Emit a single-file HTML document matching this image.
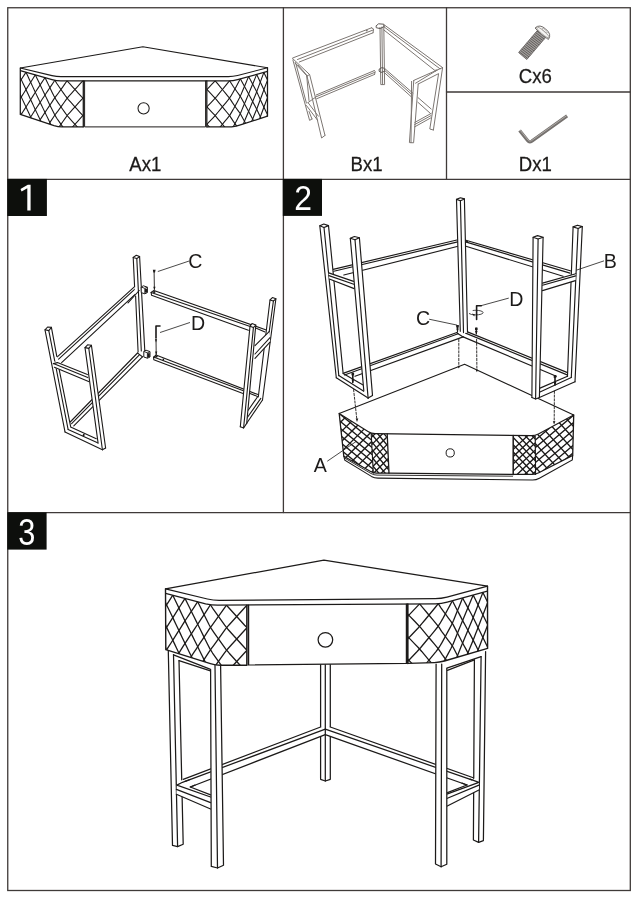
<!DOCTYPE html>
<html><head><meta charset="utf-8"><title>Assembly</title>
<style>
html,body{margin:0;padding:0;background:#fff;}
body{width:639px;height:900px;overflow:hidden;position:relative;font-family:"Liberation Sans",sans-serif;}
svg{position:absolute;left:0;top:0;will-change:transform;}
text{font-family:"Liberation Sans",sans-serif;}
</style></head><body>
<svg width="639" height="900" viewBox="0 0 639 900">
<rect x="7.75" y="7.75" width="622.55" height="882.75" fill="none" stroke="#3f3a38" stroke-width="1.3"/>
<path d="M7.75 179.30 L630.30 179.30" fill="none" stroke="#3f3a38" stroke-width="1.3" stroke-linejoin="round" stroke-linecap="round" />
<path d="M7.75 512.60 L630.30 512.60" fill="none" stroke="#3f3a38" stroke-width="1.3" stroke-linejoin="round" stroke-linecap="round" />
<path d="M283.40 7.75 L283.40 512.60" fill="none" stroke="#3f3a38" stroke-width="1.3" stroke-linejoin="round" stroke-linecap="round" />
<path d="M446.50 7.75 L446.50 179.30" fill="none" stroke="#3f3a38" stroke-width="1.3" stroke-linejoin="round" stroke-linecap="round" />
<path d="M446.50 92.00 L630.30 92.00" fill="none" stroke="#3f3a38" stroke-width="1.3" stroke-linejoin="round" stroke-linecap="round" />
<rect x="7.3" y="178.9" width="39.6" height="37.1" fill="#0d0f0c"/>
<rect x="282.8" y="178.9" width="39.2" height="37.0" fill="#0d0f0c"/>
<rect x="7.3" y="512.4" width="39.3" height="37.2" fill="#0d0f0c"/>
<path d="M30.6 184.7 L30.6 210.6 L27.3 210.6 L27.3 188.3 L21.6 191.5 L20.5 189.1 L27.8 184.7 Z" fill="#fff"/>
<text transform="translate(303.2,210.2) scale(0.9,1)" font-size="35.4" fill="#fff" text-anchor="middle">2</text>
<text transform="translate(26.7,544.6) scale(0.84,1)" font-size="36.6" fill="#fff" text-anchor="middle">3</text>
<text transform="translate(145.3,170.9) scale(0.95,1)" font-size="19.6" fill="#1c1a19" stroke="#1c1a19" stroke-width="0.25" text-anchor="middle">Ax1</text>
<text transform="translate(366.6,170.9) scale(0.95,1)" font-size="19.6" fill="#1c1a19" stroke="#1c1a19" stroke-width="0.25" text-anchor="middle">Bx1</text>
<text transform="translate(535.4,82.9) scale(0.95,1)" font-size="19.6" fill="#1c1a19" stroke="#1c1a19" stroke-width="0.25" text-anchor="middle">Cx6</text>
<text transform="translate(535.3,171.1) scale(0.95,1)" font-size="19.6" fill="#1c1a19" stroke="#1c1a19" stroke-width="0.25" text-anchor="middle">Dx1</text>
<path d="M20.30 68.00 L142.90 46.80 L267.50 67.80" fill="none" stroke="#1c1a19" stroke-width="1.15" stroke-linejoin="round" stroke-linecap="round" />
<path d="M20.3 68.0 L52 75.6 Q56.5 76.6 61 76.6 L228.4 76.6 Q233 76.6 237.6 75.5 L267.5 67.8" fill="none" stroke="#1c1a19" stroke-width="1.15"/>
<path d="M20.3 70.6 L52 79.6 Q56.5 80.8 61 80.8 L228.4 80.8 Q233 80.8 237.6 79.6 L267.5 71.4" fill="none" stroke="#1c1a19" stroke-width="1.15"/>
<path d="M20.30 68.00 L20.30 114.40" fill="none" stroke="#1c1a19" stroke-width="1.25" stroke-linejoin="round" stroke-linecap="round" />
<path d="M267.50 67.80 L267.50 116.20" fill="none" stroke="#1c1a19" stroke-width="1.25" stroke-linejoin="round" stroke-linecap="round" />
<path d="M20.3 114.4 L54 125.7 Q58 126.9 62 126.9 L83.4 126.9" fill="none" stroke="#1c1a19" stroke-width="1.25"/>
<path d="M267.5 116.2 L240.4 124.9 Q236.4 126.2 231.6 126.9 L206.6 126.9" fill="none" stroke="#1c1a19" stroke-width="1.25"/>
<path d="M84.60 81.00 L84.60 126.90 L205.60 126.90 L205.60 81.00" fill="none" stroke="#1c1a19" stroke-width="1.0" stroke-linejoin="round" stroke-linecap="round" />
<path d="M83.30 81.00 L83.30 126.90" fill="none" stroke="#1c1a19" stroke-width="1.3" stroke-linejoin="round" stroke-linecap="round" />
<path d="M206.80 81.00 L206.80 126.90" fill="none" stroke="#1c1a19" stroke-width="1.3" stroke-linejoin="round" stroke-linecap="round" />
<circle cx="143.6" cy="108.3" r="5.6" fill="none" stroke="#1c1a19" stroke-width="1.05"/>
<clipPath id="c1"><polygon points="20.30,70.60 52.00,79.60 56.50,80.60 61.00,80.80 83.30,80.80 83.30,126.90 62.00,126.90 58.00,126.70 54.00,125.70 20.30,114.40"/></clipPath>
<g clip-path="url(#c1)">
<path d="M-2.50 64.13 L-0.79 67.74 L0.92 71.36 L2.63 74.98 L4.34 78.59 L6.05 82.21 L7.76 85.83 L9.47 89.44 L11.18 93.06 L12.89 96.68 L14.60 100.29 L16.31 103.91 L18.02 107.53 L19.72 111.14 L21.43 114.76 L23.14 118.38 L24.85 121.99" fill="none" stroke="#1c1a19" stroke-width="1.1" stroke-linejoin="round" stroke-linecap="round" />
<path d="M7.00 66.82 L8.71 70.44 L10.42 74.06 L12.13 77.67 L13.84 81.29 L15.55 84.91 L17.26 88.52 L18.97 92.14 L20.68 95.76 L22.39 99.37 L24.10 102.99 L25.81 106.61 L27.48 110.21 L29.16 113.82 L30.83 117.43 L32.50 121.03 L34.18 124.64" fill="none" stroke="#1c1a19" stroke-width="1.1" stroke-linejoin="round" stroke-linecap="round" />
<path d="M16.50 69.52 L18.21 73.14 L19.92 76.75 L21.63 80.37 L23.34 83.99 L25.05 87.60 L26.74 91.22 L28.42 94.82 L30.09 98.43 L31.76 102.04 L33.44 105.64 L35.11 109.25 L36.85 112.87 L38.59 116.50 L40.34 120.13 L42.08 123.75 L43.83 127.38" fill="none" stroke="#1c1a19" stroke-width="1.1" stroke-linejoin="round" stroke-linecap="round" />
<path d="M26.00 72.22 L27.67 75.82 L29.35 79.43 L31.02 83.04 L32.69 86.64 L34.37 90.25 L36.07 93.87 L37.82 97.49 L39.56 101.12 L41.31 104.75 L43.06 108.37 L44.80 112.00 L46.56 115.63 L48.33 119.26 L50.09 122.90 L51.85 126.53 L53.62 130.06" fill="none" stroke="#1c1a19" stroke-width="1.1" stroke-linejoin="round" stroke-linecap="round" />
<path d="M35.30 74.86 L37.05 78.49 L38.79 82.11 L40.54 85.74 L42.28 89.37 L44.03 92.99 L45.78 96.62 L47.55 100.25 L49.31 103.89 L51.07 107.52 L52.84 111.10 L54.60 114.62 L56.76 118.19 L58.98 121.42 L61.19 124.64 L63.40 127.77 L65.62 130.90" fill="none" stroke="#1c1a19" stroke-width="1.1" stroke-linejoin="round" stroke-linecap="round" />
<path d="M45.00 77.61 L46.76 81.24 L48.53 84.88 L50.29 88.51 L52.05 92.14 L53.82 95.66 L55.78 99.23 L57.99 102.59 L60.21 105.81 L62.42 108.98 L64.63 112.11 L66.85 115.24 L69.60 118.38 L72.43 121.51 L75.25 124.64 L78.08 127.77 L80.91 130.90" fill="none" stroke="#1c1a19" stroke-width="1.1" stroke-linejoin="round" stroke-linecap="round" />
<path d="M54.80 80.22 L57.01 83.75 L59.23 86.98 L61.44 90.19 L63.65 93.33 L65.87 96.46 L68.35 99.59 L71.18 102.72 L74.00 105.85 L76.83 108.98 L79.65 112.11 L82.48 115.24 L85.86 118.38 L89.32 121.51 L92.77 124.64 L96.23 127.77 L99.68 130.90" fill="none" stroke="#1c1a19" stroke-width="1.1" stroke-linejoin="round" stroke-linecap="round" />
<path d="M67.10 80.80 L69.93 83.93 L72.75 87.06 L75.58 90.19 L78.40 93.33 L81.23 96.46 L84.33 99.59 L87.79 102.72 L91.24 105.85 L94.70 108.98 L98.15 112.11 L101.61 115.24 L105.06 118.38 L108.52 121.51 L111.97 124.64 L115.43 127.77 L118.88 130.90" fill="none" stroke="#1c1a19" stroke-width="1.1" stroke-linejoin="round" stroke-linecap="round" />
<path d="M82.80 80.80 L86.26 83.93 L89.71 87.06 L93.17 90.19 L96.62 93.33 L100.08 96.46 L103.53 99.59 L106.99 102.72 L110.44 105.85 L113.90 108.98 L117.35 112.11 L120.81 115.24 L124.26 118.38 L127.72 121.51 L131.17 124.64 L134.63 127.77 L138.08 130.90" fill="none" stroke="#1c1a19" stroke-width="1.1" stroke-linejoin="round" stroke-linecap="round" />
<path d="M26.00 72.22 L24.29 74.86 L22.58 77.51 L20.87 80.16 L19.16 82.80 L17.45 85.45 L15.74 88.09 L14.03 90.74 L12.32 93.39 L10.61 96.03 L8.90 98.68 L7.19 101.32 L5.48 103.97 L3.78 106.61 L2.07 109.26 L0.36 111.91 L-1.35 114.55" fill="none" stroke="#1c1a19" stroke-width="1.1" stroke-linejoin="round" stroke-linecap="round" />
<path d="M35.30 74.86 L33.63 77.51 L31.95 80.17 L30.28 82.83 L28.61 85.48 L26.93 88.14 L25.24 90.79 L23.53 93.44 L21.82 96.08 L20.11 98.73 L18.40 101.37 L16.69 104.02 L14.98 106.67 L13.28 109.31 L11.57 111.96 L9.86 114.60 L8.15 117.25" fill="none" stroke="#1c1a19" stroke-width="1.1" stroke-linejoin="round" stroke-linecap="round" />
<path d="M45.00 77.61 L43.25 80.25 L41.51 82.88 L39.76 85.52 L38.02 88.16 L36.27 90.79 L34.56 93.44 L32.88 96.09 L31.21 98.75 L29.54 101.40 L27.86 104.06 L26.19 106.72 L24.48 109.36 L22.78 112.01 L21.07 114.65 L19.36 117.30 L17.65 119.95" fill="none" stroke="#1c1a19" stroke-width="1.1" stroke-linejoin="round" stroke-linecap="round" />
<path d="M54.80 80.22 L53.04 82.96 L51.27 85.66 L49.51 88.29 L47.75 90.92 L45.98 93.55 L44.23 96.18 L42.48 98.82 L40.74 101.45 L38.99 104.09 L37.24 106.72 L35.50 109.36 L33.82 112.01 L32.14 114.67 L30.47 117.32 L28.80 119.98 L27.12 122.64" fill="none" stroke="#1c1a19" stroke-width="1.1" stroke-linejoin="round" stroke-linecap="round" />
<path d="M67.10 80.80 L64.89 83.93 L62.67 87.06 L60.46 90.17 L58.25 93.20 L56.03 96.15 L54.02 98.84 L52.25 101.58 L50.49 104.22 L48.73 106.85 L46.96 109.48 L45.20 112.11 L43.45 114.75 L41.71 117.38 L39.96 120.02 L38.22 122.66 L36.47 125.29" fill="none" stroke="#1c1a19" stroke-width="1.1" stroke-linejoin="round" stroke-linecap="round" />
<path d="M82.80 80.80 L79.97 83.93 L77.15 87.06 L74.32 90.19 L71.50 93.33 L68.67 96.46 L66.12 99.59 L63.91 102.72 L61.69 105.85 L59.48 108.91 L57.27 111.95 L55.05 114.72 L53.24 117.45 L51.47 120.16 L49.71 122.79 L47.95 125.42 L46.18 128.05" fill="none" stroke="#1c1a19" stroke-width="1.1" stroke-linejoin="round" stroke-linecap="round" />
<path d="M102.00 80.80 L98.54 83.93 L95.09 87.06 L91.63 90.19 L88.18 93.33 L84.72 96.46 L81.55 99.59 L78.72 102.72 L75.90 105.85 L73.07 108.98 L70.25 112.11 L67.42 115.24 L65.14 118.38 L62.92 121.51 L60.71 124.62 L58.50 127.66 L56.28 130.65" fill="none" stroke="#1c1a19" stroke-width="1.1" stroke-linejoin="round" stroke-linecap="round" />
<path d="M121.20 80.80 L117.74 83.93 L114.29 87.06 L110.83 90.19 L107.38 93.33 L103.92 96.46 L100.47 99.59 L97.01 102.72 L93.56 105.85 L90.10 108.98 L86.65 112.11 L83.19 115.24 L80.30 118.38 L77.47 121.51 L74.65 124.64 L71.82 127.77 L68.99 130.90" fill="none" stroke="#1c1a19" stroke-width="1.1" stroke-linejoin="round" stroke-linecap="round" />
</g>
<clipPath id="c2"><polygon points="206.80,80.80 228.40,80.80 233.00,80.60 237.60,79.60 267.50,71.40 267.50,116.20 240.40,124.90 236.40,126.20 231.60,126.90 206.80,126.90"/></clipPath>
<g clip-path="url(#c2)">
<path d="M165.40 80.80 L168.40 83.95 L171.40 87.09 L174.40 90.24 L177.41 93.38 L180.41 96.53 L183.41 99.68 L186.41 102.82 L189.41 105.97 L192.41 109.12 L195.42 112.26 L198.42 115.41 L201.42 118.55 L204.42 121.70 L207.42 124.85 L210.42 127.99 L213.42 131.14" fill="none" stroke="#1c1a19" stroke-width="1.1" stroke-linejoin="round" stroke-linecap="round" />
<path d="M182.00 80.80 L185.00 83.95 L188.00 87.09 L191.00 90.24 L194.01 93.38 L197.01 96.53 L200.01 99.68 L203.01 102.82 L206.01 105.97 L209.01 109.12 L212.02 112.26 L215.02 115.41 L217.64 118.55 L220.25 121.70 L222.85 124.85 L225.46 127.99 L228.06 131.14" fill="none" stroke="#1c1a19" stroke-width="1.1" stroke-linejoin="round" stroke-linecap="round" />
<path d="M198.60 80.80 L201.60 83.95 L204.60 87.09 L207.60 90.24 L210.61 93.38 L213.61 96.53 L216.42 99.68 L219.03 102.82 L221.63 105.97 L224.23 109.12 L226.84 112.26 L229.44 115.36 L231.42 118.42 L233.35 121.42 L235.29 124.15 L237.22 126.88 L239.16 129.51" fill="none" stroke="#1c1a19" stroke-width="1.1" stroke-linejoin="round" stroke-linecap="round" />
<path d="M215.20 80.80 L217.80 83.95 L220.41 87.09 L223.01 90.24 L225.61 93.38 L228.22 96.53 L230.51 99.59 L232.44 102.65 L234.38 105.47 L236.31 108.20 L238.25 110.88 L240.18 113.50 L241.71 116.23 L243.21 118.96 L244.71 121.70 L246.21 124.43 L247.71 127.17" fill="none" stroke="#1c1a19" stroke-width="1.1" stroke-linejoin="round" stroke-linecap="round" />
<path d="M229.60 80.75 L231.53 83.81 L233.47 86.79 L235.40 89.52 L237.34 92.24 L239.27 94.87 L241.00 97.54 L242.51 100.28 L244.01 103.01 L245.51 105.75 L247.01 108.48 L248.51 111.22 L249.98 113.96 L251.44 116.70 L252.90 119.45 L254.37 122.19 L255.83 124.94" fill="none" stroke="#1c1a19" stroke-width="1.1" stroke-linejoin="round" stroke-linecap="round" />
<path d="M240.30 78.86 L241.80 81.59 L243.30 84.33 L244.80 87.06 L246.30 89.80 L247.80 92.53 L249.29 95.27 L250.75 98.02 L252.22 100.76 L253.68 103.51 L255.15 106.25 L256.61 108.99 L257.92 111.78 L259.22 114.57 L260.53 117.36 L261.83 120.15 L263.13 122.94" fill="none" stroke="#1c1a19" stroke-width="1.1" stroke-linejoin="round" stroke-linecap="round" />
<path d="M248.60 76.58 L250.06 79.33 L251.53 82.07 L252.99 84.82 L254.46 87.56 L255.92 90.31 L257.31 93.07 L258.61 95.86 L259.91 98.65 L261.22 101.44 L262.52 104.23 L263.82 107.02 L265.14 109.80 L266.46 112.59 L267.78 115.37 L269.10 118.15 L270.42 120.94" fill="none" stroke="#1c1a19" stroke-width="1.1" stroke-linejoin="round" stroke-linecap="round" />
<path d="M256.70 74.36 L258.00 77.15 L259.30 79.94 L260.61 82.73 L261.91 85.52 L263.21 88.31 L264.52 91.09 L265.84 93.88 L267.16 96.66 L268.48 99.45 L269.80 102.23 L271.12 105.02 L272.44 107.80 L273.76 110.58 L275.08 113.37 L276.40 116.15 L277.72 118.94" fill="none" stroke="#1c1a19" stroke-width="1.1" stroke-linejoin="round" stroke-linecap="round" />
<path d="M263.90 72.39 L265.22 75.17 L266.54 77.96 L267.86 80.74 L269.18 83.52 L270.50 86.31 L271.82 89.09 L273.14 91.88 L274.46 94.66 L275.78 97.45 L277.10 100.23 L278.42 103.01 L279.74 105.80 L281.06 108.58 L282.38 111.37 L283.70 114.15 L285.02 116.93" fill="none" stroke="#1c1a19" stroke-width="1.1" stroke-linejoin="round" stroke-linecap="round" />
<path d="M215.20 80.80 L212.20 83.95 L209.20 87.09 L206.20 90.24 L203.19 93.38 L200.19 96.53 L197.19 99.68 L194.19 102.82 L191.19 105.97 L188.19 109.12 L185.18 112.26 L182.18 115.41 L179.18 118.55 L176.18 121.70 L173.18 124.85 L170.18 127.99 L167.18 131.14" fill="none" stroke="#1c1a19" stroke-width="1.1" stroke-linejoin="round" stroke-linecap="round" />
<path d="M229.60 80.75 L227.00 83.95 L224.39 87.09 L221.79 90.24 L219.19 93.38 L216.58 96.53 L213.79 99.68 L210.79 102.82 L207.79 105.97 L204.79 109.12 L201.78 112.26 L198.78 115.41 L195.78 118.55 L192.78 121.70 L189.78 124.85 L186.78 127.99 L183.78 131.14" fill="none" stroke="#1c1a19" stroke-width="1.1" stroke-linejoin="round" stroke-linecap="round" />
<path d="M240.30 78.86 L238.37 82.54 L236.43 86.15 L234.50 89.71 L232.56 93.20 L230.63 96.43 L228.38 99.68 L225.77 102.82 L223.17 105.97 L220.57 109.12 L217.96 112.26 L215.36 115.41 L212.38 118.55 L209.38 121.70 L206.38 124.85 L203.38 127.99 L200.38 131.14" fill="none" stroke="#1c1a19" stroke-width="1.1" stroke-linejoin="round" stroke-linecap="round" />
<path d="M248.60 76.58 L247.10 80.14 L245.60 83.70 L244.10 87.26 L242.60 90.81 L241.10 94.37 L239.39 97.99 L237.46 101.65 L235.52 105.22 L233.59 108.79 L231.65 112.12 L229.72 115.35 L227.16 118.55 L224.55 121.70 L221.95 124.85 L219.34 127.99 L216.74 131.14" fill="none" stroke="#1c1a19" stroke-width="1.1" stroke-linejoin="round" stroke-linecap="round" />
<path d="M256.70 74.36 L255.24 77.91 L253.77 81.46 L252.31 85.01 L250.84 88.55 L249.38 92.10 L247.90 95.65 L246.39 99.21 L244.89 102.77 L243.39 106.33 L241.89 109.88 L240.39 113.44 L238.48 117.11 L236.55 120.73 L234.61 124.30 L232.68 127.81 L230.74 131.04" fill="none" stroke="#1c1a19" stroke-width="1.1" stroke-linejoin="round" stroke-linecap="round" />
<path d="M263.90 72.39 L262.60 75.89 L261.30 79.39 L259.99 82.90 L258.69 86.40 L257.39 89.90 L256.01 93.43 L254.55 96.98 L253.08 100.52 L251.62 104.07 L250.15 107.62 L248.69 111.17 L247.19 114.72 L245.69 118.28 L244.19 121.84 L242.69 125.40 L241.19 128.96" fill="none" stroke="#1c1a19" stroke-width="1.1" stroke-linejoin="round" stroke-linecap="round" />
<path d="M271.20 70.39 L269.88 73.89 L268.56 77.40 L267.24 80.91 L265.92 84.42 L264.60 87.93 L263.29 91.43 L261.99 94.94 L260.69 98.44 L259.38 101.94 L258.08 105.45 L256.78 108.95 L255.32 112.49 L253.86 116.04 L252.40 119.59 L250.93 123.14 L249.47 126.68" fill="none" stroke="#1c1a19" stroke-width="1.1" stroke-linejoin="round" stroke-linecap="round" />
<path d="M278.50 68.38 L277.18 71.89 L275.86 75.40 L274.54 78.91 L273.22 82.42 L271.90 85.92 L270.58 89.43 L269.26 92.94 L267.94 96.45 L266.62 99.96 L265.30 103.47 L263.98 106.97 L262.68 110.48 L261.38 113.98 L260.07 117.48 L258.77 120.99 L257.47 124.49" fill="none" stroke="#1c1a19" stroke-width="1.1" stroke-linejoin="round" stroke-linecap="round" />
<path d="M285.80 66.38 L284.48 69.89 L283.16 73.40 L281.84 76.91 L280.52 80.41 L279.20 83.92 L277.88 87.43 L276.56 90.94 L275.24 94.45 L273.92 97.95 L272.60 101.46 L271.28 104.97 L269.96 108.48 L268.64 111.99 L267.32 115.50 L266.00 119.00 L264.68 122.51" fill="none" stroke="#1c1a19" stroke-width="1.1" stroke-linejoin="round" stroke-linecap="round" />
</g>
<path d="M292.90 57.90 L371.60 27.80" fill="none" stroke="#7c7672" stroke-width="1.0" stroke-linejoin="round" stroke-linecap="round" />
<path d="M297.50 59.50 L372.60 30.20" fill="none" stroke="#7c7672" stroke-width="1.0" stroke-linejoin="round" stroke-linecap="round" />
<path d="M299.30 62.00 L373.00 32.80" fill="none" stroke="#7c7672" stroke-width="1.0" stroke-linejoin="round" stroke-linecap="round" />
<path d="M371.60 27.80 L373.60 29.00 L373.00 32.80" fill="none" stroke="#7c7672" stroke-width="1.0" stroke-linejoin="round" stroke-linecap="round" />
<circle cx="366.8" cy="30.6" r="0.9" fill="#7c7672"/>
<path d="M316.20 95.00 L374.30 70.60" fill="none" stroke="#7c7672" stroke-width="1.0" stroke-linejoin="round" stroke-linecap="round" />
<path d="M315.80 96.90 L374.60 72.40" fill="none" stroke="#7c7672" stroke-width="1.0" stroke-linejoin="round" stroke-linecap="round" />
<path d="M316.60 98.80 L374.60 74.40" fill="none" stroke="#7c7672" stroke-width="1.0" stroke-linejoin="round" stroke-linecap="round" />
<path d="M374.30 70.60 L375.20 71.60 L374.60 74.40" fill="none" stroke="#7c7672" stroke-width="1.0" stroke-linejoin="round" stroke-linecap="round" />
<path d="M292.50 58.40 L309.60 74.50 L325.00 135.40" fill="none" stroke="#7c7672" stroke-width="1.0" stroke-linejoin="round" stroke-linecap="round" />
<path d="M307.00 76.00 L321.60 138.00 L325.00 135.40" fill="none" stroke="#7c7672" stroke-width="1.0" stroke-linejoin="round" stroke-linecap="round" />
<path d="M309.60 74.50 L307.00 76.00" fill="none" stroke="#7c7672" stroke-width="1.0" stroke-linejoin="round" stroke-linecap="round" />
<path d="M292.90 60.00 L309.60 120.40 L312.00 119.00" fill="none" stroke="#7c7672" stroke-width="1.0" stroke-linejoin="round" stroke-linecap="round" />
<path d="M295.60 62.60 L306.40 103.00" fill="none" stroke="#7c7672" stroke-width="1.0" stroke-linejoin="round" stroke-linecap="round" />
<path d="M309.00 111.50 L312.00 119.00" fill="none" stroke="#7c7672" stroke-width="1.0" stroke-linejoin="round" stroke-linecap="round" />
<path d="M295.00 63.00 L307.00 76.00" fill="none" stroke="#7c7672" stroke-width="1.0" stroke-linejoin="round" stroke-linecap="round" />
<path d="M298.00 65.00 L306.60 75.00 L309.00 100.50" fill="none" stroke="#7c7672" stroke-width="1.0" stroke-linejoin="round" stroke-linecap="round" />
<path d="M306.40 105.50 L317.40 120.00" fill="none" stroke="#7c7672" stroke-width="1.0" stroke-linejoin="round" stroke-linecap="round" />
<path d="M308.00 102.60 L318.40 116.20" fill="none" stroke="#7c7672" stroke-width="1.0" stroke-linejoin="round" stroke-linecap="round" />
<path d="M308.00 102.60 L315.50 97.30" fill="none" stroke="#7c7672" stroke-width="1.0" stroke-linejoin="round" stroke-linecap="round" />
<path d="M380.00 27.40 L380.80 84.60 L384.60 84.60 L383.80 25.60" fill="none" stroke="#7c7672" stroke-width="1.0" stroke-linejoin="round" stroke-linecap="round" />
<path d="M381.90 27.00 L382.60 84.60" fill="none" stroke="#7c7672" stroke-width="1.0" stroke-linejoin="round" stroke-linecap="round" />
<path d="M376.40 25.60 L378.60 23.80 L383.60 24.20 L384.40 26.40 L380.20 28.60 L376.60 27.80 Z" fill="none" stroke="#5d5855" stroke-width="1.0" stroke-linejoin="round" stroke-linecap="round" />
<path d="M379.60 68.80 L382.00 67.60 L384.60 68.40 L384.60 71.40 L381.00 72.40 L379.40 71.40 Z" fill="none" stroke="#5d5855" stroke-width="1.0" stroke-linejoin="round" stroke-linecap="round" />
<path d="M383.60 24.40 L442.60 67.60" fill="none" stroke="#7c7672" stroke-width="1.0" stroke-linejoin="round" stroke-linecap="round" />
<path d="M384.20 27.00 L440.00 68.80" fill="none" stroke="#7c7672" stroke-width="1.0" stroke-linejoin="round" stroke-linecap="round" />
<path d="M383.90 30.00 L435.80 71.20" fill="none" stroke="#7c7672" stroke-width="1.0" stroke-linejoin="round" stroke-linecap="round" />
<path d="M384.60 68.40 L413.00 93.20" fill="none" stroke="#7c7672" stroke-width="1.0" stroke-linejoin="round" stroke-linecap="round" />
<path d="M384.60 70.40 L412.40 95.00" fill="none" stroke="#7c7672" stroke-width="1.0" stroke-linejoin="round" stroke-linecap="round" />
<path d="M384.60 72.80 L412.00 97.40" fill="none" stroke="#7c7672" stroke-width="1.0" stroke-linejoin="round" stroke-linecap="round" />
<path d="M418.00 97.60 L431.20 109.00" fill="none" stroke="#7c7672" stroke-width="1.0" stroke-linejoin="round" stroke-linecap="round" />
<path d="M417.80 102.20 L430.40 113.40" fill="none" stroke="#7c7672" stroke-width="1.0" stroke-linejoin="round" stroke-linecap="round" />
<path d="M413.80 80.40 L442.60 67.60 L433.40 130.00" fill="none" stroke="#7c7672" stroke-width="1.0" stroke-linejoin="round" stroke-linecap="round" />
<path d="M413.80 80.40 L409.40 142.60 L413.60 142.80 L418.20 84.00" fill="none" stroke="#7c7672" stroke-width="1.0" stroke-linejoin="round" stroke-linecap="round" />
<path d="M411.60 81.40 L411.00 142.70" fill="none" stroke="#7c7672" stroke-width="1.0" stroke-linejoin="round" stroke-linecap="round" />
<path d="M418.20 84.00 L438.60 73.60 L429.80 129.00 L433.40 130.00" fill="none" stroke="#7c7672" stroke-width="1.0" stroke-linejoin="round" stroke-linecap="round" />
<path d="M415.60 83.20 L437.00 70.20" fill="none" stroke="#7c7672" stroke-width="1.0" stroke-linejoin="round" stroke-linecap="round" />
<path d="M436.20 69.60 L436.90 70.60" fill="none" stroke="#7c7672" stroke-width="1.0" stroke-linejoin="round" stroke-linecap="round" />
<path d="M414.80 122.40 L431.20 113.40" fill="none" stroke="#7c7672" stroke-width="1.0" stroke-linejoin="round" stroke-linecap="round" />
<path d="M414.60 124.60 L431.00 115.60" fill="none" stroke="#7c7672" stroke-width="1.0" stroke-linejoin="round" stroke-linecap="round" />
<path d="M414.40 127.00 L430.60 118.00" fill="none" stroke="#7c7672" stroke-width="1.0" stroke-linejoin="round" stroke-linecap="round" />
<g transform="translate(532.1,45.0) rotate(-49.5)">
<rect x="-14.5" y="-5.4" width="29.5" height="10.8" rx="1" fill="#a09d9b"/>
<line x1="-13.60" y1="-5.4" x2="-13.00" y2="5.4" stroke="#5c5856" stroke-width="0.85"/>
<line x1="-11.65" y1="-5.4" x2="-11.05" y2="5.4" stroke="#5c5856" stroke-width="0.85"/>
<line x1="-9.70" y1="-5.4" x2="-9.10" y2="5.4" stroke="#5c5856" stroke-width="0.85"/>
<line x1="-7.75" y1="-5.4" x2="-7.15" y2="5.4" stroke="#5c5856" stroke-width="0.85"/>
<line x1="-5.80" y1="-5.4" x2="-5.20" y2="5.4" stroke="#5c5856" stroke-width="0.85"/>
<line x1="-3.85" y1="-5.4" x2="-3.25" y2="5.4" stroke="#5c5856" stroke-width="0.85"/>
<line x1="-1.90" y1="-5.4" x2="-1.30" y2="5.4" stroke="#5c5856" stroke-width="0.85"/>
<line x1="0.05" y1="-5.4" x2="0.65" y2="5.4" stroke="#5c5856" stroke-width="0.85"/>
<line x1="2.00" y1="-5.4" x2="2.60" y2="5.4" stroke="#5c5856" stroke-width="0.85"/>
<line x1="3.95" y1="-5.4" x2="4.55" y2="5.4" stroke="#5c5856" stroke-width="0.85"/>
<line x1="5.90" y1="-5.4" x2="6.50" y2="5.4" stroke="#5c5856" stroke-width="0.85"/>
<line x1="7.85" y1="-5.4" x2="8.45" y2="5.4" stroke="#5c5856" stroke-width="0.85"/>
<line x1="9.80" y1="-5.4" x2="10.40" y2="5.4" stroke="#5c5856" stroke-width="0.85"/>
<line x1="11.75" y1="-5.4" x2="12.35" y2="5.4" stroke="#5c5856" stroke-width="0.85"/>
<line x1="13.70" y1="-5.4" x2="14.30" y2="5.4" stroke="#5c5856" stroke-width="0.85"/>
<line x1="-14.5" y1="-5.4" x2="15" y2="-5.4" stroke="#6a6664" stroke-width="0.8"/>
<line x1="-14.5" y1="5.4" x2="15" y2="5.4" stroke="#6a6664" stroke-width="0.8"/>
<line x1="-14.5" y1="-5.4" x2="-14.5" y2="5.4" stroke="#6a6664" stroke-width="0.8"/>
<path d="M14.8 -8.8 Q21.2 -8.2 21.0 0 Q21.2 8.2 14.8 8.8 Q13.4 0 14.8 -8.8 Z" fill="#f6f5f3" stroke="#6f6a68" stroke-width="0.9"/>
<ellipse cx="16.6" cy="0" rx="1.6" ry="8.3" fill="none" stroke="#8d8986" stroke-width="0.7"/>
<ellipse cx="19.2" cy="0.2" rx="1.0" ry="3.4" fill="none" stroke="#9a9693" stroke-width="0.6"/>
</g>
<path d="M519.6 130.4 L527.6 140.6 Q529.4 142.8 531.8 141.2 L567.1 115.9" fill="none" stroke="#76726f" stroke-width="3.3" stroke-linecap="butt" stroke-linejoin="round"/>
<path d="M520.2 130.2 L528.2 140.2 Q529.6 141.8 531.4 140.7 L566.8 115.5" fill="none" stroke="#aeaaa7" stroke-width="1.0"/>
<path d="M134.60 286.70 L57.00 357.20" fill="none" stroke="#1c1a19" stroke-width="1.1" stroke-linejoin="round" stroke-linecap="round" />
<path d="M135.70 288.40 L58.60 359.20" fill="none" stroke="#1c1a19" stroke-width="1.1" stroke-linejoin="round" stroke-linecap="round" />
<path d="M139.40 290.40 L61.60 362.60" fill="none" stroke="#1c1a19" stroke-width="1.1" stroke-linejoin="round" stroke-linecap="round" />
<path d="M137.50 353.00 L70.20 422.00" fill="none" stroke="#1c1a19" stroke-width="1.1" stroke-linejoin="round" stroke-linecap="round" />
<path d="M139.60 354.60 L71.60 423.60" fill="none" stroke="#1c1a19" stroke-width="1.1" stroke-linejoin="round" stroke-linecap="round" />
<path d="M142.40 356.80 L73.80 425.80" fill="none" stroke="#1c1a19" stroke-width="1.1" stroke-linejoin="round" stroke-linecap="round" />
<path d="M137.50 353.00 L139.60 354.60 L142.40 356.80" fill="none" stroke="#1c1a19" stroke-width="1.1" stroke-linejoin="round" stroke-linecap="round" />
<path d="M133.20 257.40 L136.30 255.30 L139.60 256.50 L144.80 350.60 L141.30 351.40 L138.10 351.90 Z" fill="#fff" stroke="#fff" stroke-width="0.1" stroke-linejoin="round" stroke-linecap="round" />
<path d="M133.20 257.40 L134.60 286.70" fill="none" stroke="#1c1a19" stroke-width="1.1" stroke-linejoin="round" stroke-linecap="round" />
<path d="M139.60 256.50 L144.80 350.60" fill="none" stroke="#1c1a19" stroke-width="1.1" stroke-linejoin="round" stroke-linecap="round" />
<path d="M133.20 257.40 L136.30 255.30 L139.60 256.50 L136.80 258.60 Z" fill="none" stroke="#1c1a19" stroke-width="1.1" stroke-linejoin="round" stroke-linecap="round" />
<path d="M136.80 258.60 L141.30 351.00" fill="none" stroke="#1c1a19" stroke-width="1.1" stroke-linejoin="round" stroke-linecap="round" />
<path d="M139.20 290.50 L128.00 302.80" fill="none" stroke="#1c1a19" stroke-width="1.1" stroke-linejoin="round" stroke-linecap="round" />
<path d="M135.60 296.00 L138.10 351.90" fill="none" stroke="#1c1a19" stroke-width="1.1" stroke-linejoin="round" stroke-linecap="round" />
<path d="M45.00 329.80 L47.60 327.00 L51.40 327.40 L70.60 426.40 L68.10 429.40 L65.00 431.90 Z" fill="#fff" stroke="#fff" stroke-width="0.1" stroke-linejoin="round" stroke-linecap="round" />
<path d="M45.00 329.80 L65.00 431.90" fill="none" stroke="#1c1a19" stroke-width="1.1" stroke-linejoin="round" stroke-linecap="round" />
<path d="M51.40 327.40 L56.80 356.40" fill="none" stroke="#1c1a19" stroke-width="1.1" stroke-linejoin="round" stroke-linecap="round" />
<path d="M59.00 368.60 L70.60 426.40" fill="none" stroke="#1c1a19" stroke-width="1.1" stroke-linejoin="round" stroke-linecap="round" />
<path d="M45.00 329.80 L47.60 327.00 L51.40 327.40 L48.80 330.60 Z" fill="none" stroke="#1c1a19" stroke-width="1.1" stroke-linejoin="round" stroke-linecap="round" />
<path d="M48.80 330.60 L68.10 429.40" fill="none" stroke="#1c1a19" stroke-width="1.1" stroke-linejoin="round" stroke-linecap="round" />
<path d="M52.80 361.00 L87.40 374.60 L88.60 381.60 L54.00 367.60 Z" fill="#fff" stroke="#fff" stroke-width="0.1" stroke-linejoin="round" stroke-linecap="round" />
<path d="M57.40 362.60 L87.40 374.60" fill="none" stroke="#1c1a19" stroke-width="1.1" stroke-linejoin="round" stroke-linecap="round" />
<path d="M53.40 363.60 L87.80 377.60" fill="none" stroke="#1c1a19" stroke-width="1.1" stroke-linejoin="round" stroke-linecap="round" />
<path d="M54.40 367.20 L88.60 381.60" fill="none" stroke="#1c1a19" stroke-width="1.1" stroke-linejoin="round" stroke-linecap="round" />
<path d="M53.40 363.60 L57.40 362.60" fill="none" stroke="#1c1a19" stroke-width="1.1" stroke-linejoin="round" stroke-linecap="round" />
<path d="M65.00 431.90 L102.40 449.80" fill="none" stroke="#1c1a19" stroke-width="1.1" stroke-linejoin="round" stroke-linecap="round" />
<path d="M68.10 429.40 L98.10 443.10" fill="none" stroke="#1c1a19" stroke-width="1.1" stroke-linejoin="round" stroke-linecap="round" />
<path d="M70.60 426.90 L96.30 438.80" fill="none" stroke="#1c1a19" stroke-width="1.1" stroke-linejoin="round" stroke-linecap="round" />
<rect x="82.8" y="434.0" width="1.8" height="2.2" fill="#1c1a19" transform="rotate(24 83.7 435)"/>
<path d="M85.00 347.60 L87.60 344.80 L91.40 345.20 L105.60 448.00 L102.40 449.80 L98.10 443.10 Z" fill="#fff" stroke="#fff" stroke-width="0.1" stroke-linejoin="round" stroke-linecap="round" />
<path d="M85.00 347.60 L98.10 443.10" fill="none" stroke="#1c1a19" stroke-width="1.1" stroke-linejoin="round" stroke-linecap="round" />
<path d="M91.40 345.20 L105.60 448.00" fill="none" stroke="#1c1a19" stroke-width="1.1" stroke-linejoin="round" stroke-linecap="round" />
<path d="M85.00 347.60 L87.60 344.80 L91.40 345.20 L88.80 348.40 Z" fill="none" stroke="#1c1a19" stroke-width="1.1" stroke-linejoin="round" stroke-linecap="round" />
<path d="M88.80 348.40 L102.40 449.80" fill="none" stroke="#1c1a19" stroke-width="1.1" stroke-linejoin="round" stroke-linecap="round" />
<path d="M102.40 449.80 L105.60 448.00" fill="none" stroke="#1c1a19" stroke-width="1.1" stroke-linejoin="round" stroke-linecap="round" />
<path d="M141.2 287.0 L143.39999999999998 285.8 L147.39999999999998 287.2 L147.39999999999998 292.6 L144.79999999999998 293.8 L141.2 292.6 Z" fill="#fff" stroke="#1c1a19" stroke-width="1"/>
<path d="M144.79999999999998 288.4 L144.79999999999998 293.8 M141.2 287.0 L144.79999999999998 288.4 L147.39999999999998 287.2" fill="none" stroke="#1c1a19" stroke-width="0.9"/>
<rect x="145.0" y="288.8" width="2.2" height="3.8" fill="#1c1a19"/>
<path d="M143.8 351.4 L146.0 350.2 L150.0 351.59999999999997 L150.0 357.0 L147.4 358.2 L143.8 357.0 Z" fill="#fff" stroke="#1c1a19" stroke-width="1"/>
<path d="M147.4 352.79999999999995 L147.4 358.2 M143.8 351.4 L147.4 352.79999999999995 L150.0 351.59999999999997" fill="none" stroke="#1c1a19" stroke-width="0.9"/>
<rect x="147.60000000000002" y="353.2" width="2.2" height="3.8" fill="#1c1a19"/>
<path d="M151.20 292.40 L153.90 290.40 L266.30 330.00" fill="none" stroke="#1c1a19" stroke-width="1.1" stroke-linejoin="round" stroke-linecap="round" />
<path d="M151.20 292.40 L151.50 295.30 L248.40 330.20" fill="none" stroke="#1c1a19" stroke-width="1.1" stroke-linejoin="round" stroke-linecap="round" />
<path d="M151.20 292.40 L250.20 326.40" fill="none" stroke="#1c1a19" stroke-width="1.1" stroke-linejoin="round" stroke-linecap="round" />
<path d="M256.30 328.20 L265.00 331.90" fill="none" stroke="#1c1a19" stroke-width="1.1" stroke-linejoin="round" stroke-linecap="round" />
<ellipse cx="154.2" cy="292.0" rx="1.3" ry="0.9" fill="#1c1a19"/>
<path d="M153.60 357.40 L156.00 355.00 L258.00 394.60" fill="none" stroke="#1c1a19" stroke-width="1.1" stroke-linejoin="round" stroke-linecap="round" />
<path d="M153.60 357.40 L153.80 359.80 L243.00 393.40" fill="none" stroke="#1c1a19" stroke-width="1.1" stroke-linejoin="round" stroke-linecap="round" />
<path d="M153.60 357.00 L243.40 390.80" fill="none" stroke="#1c1a19" stroke-width="1.1" stroke-linejoin="round" stroke-linecap="round" />
<path d="M250.00 393.40 L257.50 396.40" fill="none" stroke="#1c1a19" stroke-width="1.1" stroke-linejoin="round" stroke-linecap="round" />
<ellipse cx="156.4" cy="356.6" rx="1.3" ry="0.9" fill="#1c1a19"/>
<rect x="162.6" y="358.6" width="1.5" height="2" fill="#1c1a19"/>
<path d="M270.00 300.00 L272.40 297.60 L275.90 298.80 L262.50 400.00 L258.30 397.00 Z" fill="#fff" stroke="#fff" stroke-width="0.1" stroke-linejoin="round" stroke-linecap="round" />
<path d="M270.00 300.00 L258.30 397.00" fill="none" stroke="#1c1a19" stroke-width="1.1" stroke-linejoin="round" stroke-linecap="round" />
<path d="M275.90 298.80 L262.50 400.00" fill="none" stroke="#1c1a19" stroke-width="1.1" stroke-linejoin="round" stroke-linecap="round" />
<path d="M270.00 300.00 L272.40 297.60 L275.90 298.80 L273.40 301.00 Z" fill="none" stroke="#1c1a19" stroke-width="1.1" stroke-linejoin="round" stroke-linecap="round" />
<path d="M273.40 301.00 L268.60 336.00" fill="none" stroke="#1c1a19" stroke-width="1.1" stroke-linejoin="round" stroke-linecap="round" />
<path d="M255.00 345.60 L269.40 331.40 L270.20 341.80 L255.00 358.40 Z" fill="#fff" stroke="#fff" stroke-width="0.1" stroke-linejoin="round" stroke-linecap="round" />
<path d="M255.00 345.60 L269.40 331.40" fill="none" stroke="#1c1a19" stroke-width="1.1" stroke-linejoin="round" stroke-linecap="round" />
<path d="M255.00 354.00 L270.00 337.60" fill="none" stroke="#1c1a19" stroke-width="1.1" stroke-linejoin="round" stroke-linecap="round" />
<path d="M255.00 358.40 L270.20 341.80" fill="none" stroke="#1c1a19" stroke-width="1.1" stroke-linejoin="round" stroke-linecap="round" />
<path d="M246.70 423.30 L262.50 400.00" fill="none" stroke="#1c1a19" stroke-width="1.1" stroke-linejoin="round" stroke-linecap="round" />
<path d="M246.80 418.20 L260.80 398.40" fill="none" stroke="#1c1a19" stroke-width="1.1" stroke-linejoin="round" stroke-linecap="round" />
<path d="M248.20 410.20 L257.60 396.80" fill="none" stroke="#1c1a19" stroke-width="1.1" stroke-linejoin="round" stroke-linecap="round" />
<path d="M250.00 326.20 L252.00 323.60 L255.80 325.00 L246.70 423.40 L243.60 428.00 L240.30 426.80 Z" fill="#fff" stroke="#fff" stroke-width="0.1" stroke-linejoin="round" stroke-linecap="round" />
<path d="M250.00 326.20 L240.30 426.80" fill="none" stroke="#1c1a19" stroke-width="1.1" stroke-linejoin="round" stroke-linecap="round" />
<path d="M255.80 325.00 L246.70 423.40" fill="none" stroke="#1c1a19" stroke-width="1.1" stroke-linejoin="round" stroke-linecap="round" />
<path d="M250.00 326.20 L252.00 323.60 L255.80 325.00 L253.40 327.60 Z" fill="none" stroke="#1c1a19" stroke-width="1.1" stroke-linejoin="round" stroke-linecap="round" />
<path d="M253.40 327.60 L243.60 428.00" fill="none" stroke="#1c1a19" stroke-width="1.1" stroke-linejoin="round" stroke-linecap="round" />
<path d="M240.30 426.80 L243.60 428.00 L246.70 423.40" fill="none" stroke="#1c1a19" stroke-width="1.1" stroke-linejoin="round" stroke-linecap="round" />
<text x="195.3" y="267.9" font-size="19.6" fill="#1c1a19" text-anchor="middle" >C</text>
<text x="198.0" y="329.7" font-size="19.6" fill="#1c1a19" text-anchor="middle" >D</text>
<path d="M188.60 261.20 L158.20 271.40" fill="none" stroke="#1c1a19" stroke-width="0.8" stroke-linejoin="round" stroke-linecap="round" />
<path d="M189.60 322.60 L160.40 332.40" fill="none" stroke="#1c1a19" stroke-width="0.8" stroke-linejoin="round" stroke-linecap="round" />
<path d="M154.10 271.60 L154.40 289.40" fill="none" stroke="#1c1a19" stroke-width="0.9" stroke-linejoin="round" stroke-linecap="round" />
<path d="M152.8 269.8 L155.6 269.8 L155.0 272.4 L153.4 272.4 Z" fill="#1c1a19"/>
<path d="M153.3 286.8 L155.5 286.8 L154.4 290.2 Z" fill="#1c1a19"/>
<path d="M160.00 326.00 L156.00 326.00 L156.00 337.60" fill="none" stroke="#1c1a19" stroke-width="1.6" stroke-linejoin="round" stroke-linecap="round" />
<path d="M156.00 337.60 L156.20 354.80" fill="none" stroke="#1c1a19" stroke-width="0.9" stroke-linejoin="round" stroke-linecap="round" />
<path d="M154.9 339.2 L157.1 339.2 L156.0 342.6 Z" fill="#1c1a19"/>
<path d="M155.1 351.6 L157.3 351.6 L156.2 355.2 Z" fill="#1c1a19"/>
<path d="M339.20 413.50 L464.60 364.30 L573.70 415.00" fill="none" stroke="#1c1a19" stroke-width="1.1" stroke-linejoin="round" stroke-linecap="round" />
<path d="M339.2 413.5 L368.4 431.8 Q371.2 433.6 375 433.7 L531.4 435.7 Q535.2 435.7 538.4 434.0 L573.7 415" fill="none" stroke="#1c1a19" stroke-width="1.2"/>
<path d="M339.20 413.50 L343.80 456.20" fill="none" stroke="#1c1a19" stroke-width="1.3" stroke-linejoin="round" stroke-linecap="round" />
<path d="M573.70 415.00 L572.70 455.40" fill="none" stroke="#1c1a19" stroke-width="1.3" stroke-linejoin="round" stroke-linecap="round" />
<path d="M343.8 456.2 L370.6 471.6 Q373.3 473.1 376.4 473.1 L388.3 473.2 L513.1 474.4 L532 474.4 Q535.6 474.4 538.8 472.8 L572.7 455.4" fill="none" stroke="#1c1a19" stroke-width="1.2"/>
<path d="M344.2 457.8 L371.0 473.5 Q373.8 475.1 377 475.1 L513 476.2" fill="none" stroke="#1c1a19" stroke-width="0.9"/>
<path d="M343.8 456.2 L344.8 460.2 L371.4 476.4 Q374.4 478.1 378 478.1 L532.6 480.0 Q536.2 480.0 539.4 478.2 L572.3 460.0 L572.7 455.4" fill="none" stroke="#1c1a19" stroke-width="1.1"/>
<path d="M387.20 434.00 L389.00 473.20" fill="none" stroke="#1c1a19" stroke-width="1.3" stroke-linejoin="round" stroke-linecap="round" />
<path d="M513.20 435.40 L513.20 474.40" fill="none" stroke="#1c1a19" stroke-width="1.5" stroke-linejoin="round" stroke-linecap="round" />
<path d="M371.20 433.60 L373.30 473.10" fill="none" stroke="#1c1a19" stroke-width="1.1" stroke-linejoin="round" stroke-linecap="round" />
<path d="M535.20 435.70 L535.60 474.40" fill="none" stroke="#1c1a19" stroke-width="1.1" stroke-linejoin="round" stroke-linecap="round" />
<circle cx="450.2" cy="452.9" r="4.1" fill="none" stroke="#1c1a19" stroke-width="1"/>
<clipPath id="c3"><polygon points="339.20,413.50 371.20,433.60 373.30,473.10 343.80,456.20"/></clipPath>
<g clip-path="url(#c3)">
<path d="M244.16 314.61 L429.74 466.79" fill="none" stroke="#1c1a19" stroke-width="1.35" stroke-linejoin="round" stroke-linecap="round" />
<path d="M244.91 322.21 L430.49 474.39" fill="none" stroke="#1c1a19" stroke-width="1.35" stroke-linejoin="round" stroke-linecap="round" />
<path d="M245.66 329.81 L431.24 481.99" fill="none" stroke="#1c1a19" stroke-width="1.35" stroke-linejoin="round" stroke-linecap="round" />
<path d="M246.41 337.41 L431.99 489.59" fill="none" stroke="#1c1a19" stroke-width="1.35" stroke-linejoin="round" stroke-linecap="round" />
<path d="M247.16 345.01 L432.74 497.19" fill="none" stroke="#1c1a19" stroke-width="1.35" stroke-linejoin="round" stroke-linecap="round" />
<path d="M247.91 352.61 L433.49 504.79" fill="none" stroke="#1c1a19" stroke-width="1.35" stroke-linejoin="round" stroke-linecap="round" />
<path d="M248.66 360.21 L434.24 512.39" fill="none" stroke="#1c1a19" stroke-width="1.35" stroke-linejoin="round" stroke-linecap="round" />
<path d="M249.41 367.81 L434.99 519.99" fill="none" stroke="#1c1a19" stroke-width="1.35" stroke-linejoin="round" stroke-linecap="round" />
<path d="M250.16 375.41 L435.74 527.59" fill="none" stroke="#1c1a19" stroke-width="1.35" stroke-linejoin="round" stroke-linecap="round" />
<path d="M250.91 383.01 L436.49 535.19" fill="none" stroke="#1c1a19" stroke-width="1.35" stroke-linejoin="round" stroke-linecap="round" />
<path d="M251.66 390.61 L437.24 542.79" fill="none" stroke="#1c1a19" stroke-width="1.35" stroke-linejoin="round" stroke-linecap="round" />
</g>
<clipPath id="c4"><polygon points="339.20,413.50 371.20,433.60 373.30,473.10 343.80,456.20"/></clipPath>
<g clip-path="url(#c4)">
<path d="M254.35 498.35 L424.05 328.65" fill="none" stroke="#1c1a19" stroke-width="1.35" stroke-linejoin="round" stroke-linecap="round" />
<path d="M260.55 502.25 L430.25 332.55" fill="none" stroke="#1c1a19" stroke-width="1.35" stroke-linejoin="round" stroke-linecap="round" />
<path d="M266.75 506.15 L436.45 336.45" fill="none" stroke="#1c1a19" stroke-width="1.35" stroke-linejoin="round" stroke-linecap="round" />
<path d="M272.95 510.05 L442.65 340.35" fill="none" stroke="#1c1a19" stroke-width="1.35" stroke-linejoin="round" stroke-linecap="round" />
<path d="M279.15 513.95 L448.85 344.25" fill="none" stroke="#1c1a19" stroke-width="1.35" stroke-linejoin="round" stroke-linecap="round" />
<path d="M285.35 517.85 L455.05 348.15" fill="none" stroke="#1c1a19" stroke-width="1.35" stroke-linejoin="round" stroke-linecap="round" />
<path d="M291.55 521.75 L461.25 352.05" fill="none" stroke="#1c1a19" stroke-width="1.35" stroke-linejoin="round" stroke-linecap="round" />
<path d="M297.75 525.65 L467.45 355.95" fill="none" stroke="#1c1a19" stroke-width="1.35" stroke-linejoin="round" stroke-linecap="round" />
<path d="M303.95 529.55 L473.65 359.85" fill="none" stroke="#1c1a19" stroke-width="1.35" stroke-linejoin="round" stroke-linecap="round" />
<path d="M310.15 533.45 L479.85 363.75" fill="none" stroke="#1c1a19" stroke-width="1.35" stroke-linejoin="round" stroke-linecap="round" />
<path d="M316.35 537.35 L486.05 367.65" fill="none" stroke="#1c1a19" stroke-width="1.35" stroke-linejoin="round" stroke-linecap="round" />
<path d="M322.55 541.25 L492.25 371.55" fill="none" stroke="#1c1a19" stroke-width="1.35" stroke-linejoin="round" stroke-linecap="round" />
<path d="M328.75 545.15 L498.45 375.45" fill="none" stroke="#1c1a19" stroke-width="1.35" stroke-linejoin="round" stroke-linecap="round" />
</g>
<clipPath id="c5"><polygon points="371.20,433.60 386.60,434.00 388.60,473.20 373.30,473.10"/></clipPath>
<g clip-path="url(#c5)">
<path d="M294.38 318.61 L448.02 502.99" fill="none" stroke="#1c1a19" stroke-width="1.35" stroke-linejoin="round" stroke-linecap="round" />
<path d="M294.38 326.21 L448.02 510.59" fill="none" stroke="#1c1a19" stroke-width="1.35" stroke-linejoin="round" stroke-linecap="round" />
<path d="M294.38 333.81 L448.02 518.19" fill="none" stroke="#1c1a19" stroke-width="1.35" stroke-linejoin="round" stroke-linecap="round" />
<path d="M294.38 341.41 L448.02 525.79" fill="none" stroke="#1c1a19" stroke-width="1.35" stroke-linejoin="round" stroke-linecap="round" />
<path d="M294.38 349.01 L448.02 533.39" fill="none" stroke="#1c1a19" stroke-width="1.35" stroke-linejoin="round" stroke-linecap="round" />
<path d="M294.38 356.61 L448.02 540.99" fill="none" stroke="#1c1a19" stroke-width="1.35" stroke-linejoin="round" stroke-linecap="round" />
<path d="M294.38 364.21 L448.02 548.59" fill="none" stroke="#1c1a19" stroke-width="1.35" stroke-linejoin="round" stroke-linecap="round" />
<path d="M294.38 371.81 L448.02 556.19" fill="none" stroke="#1c1a19" stroke-width="1.35" stroke-linejoin="round" stroke-linecap="round" />
<path d="M294.38 379.41 L448.02 563.79" fill="none" stroke="#1c1a19" stroke-width="1.35" stroke-linejoin="round" stroke-linecap="round" />
<path d="M294.38 387.01 L448.02 571.39" fill="none" stroke="#1c1a19" stroke-width="1.35" stroke-linejoin="round" stroke-linecap="round" />
</g>
<clipPath id="c6"><polygon points="371.20,433.60 386.60,434.00 388.60,473.20 373.30,473.10"/></clipPath>
<g clip-path="url(#c6)">
<path d="M286.35 522.45 L456.05 352.75" fill="none" stroke="#1c1a19" stroke-width="1.35" stroke-linejoin="round" stroke-linecap="round" />
<path d="M286.35 530.05 L456.05 360.35" fill="none" stroke="#1c1a19" stroke-width="1.35" stroke-linejoin="round" stroke-linecap="round" />
<path d="M286.35 537.65 L456.05 367.95" fill="none" stroke="#1c1a19" stroke-width="1.35" stroke-linejoin="round" stroke-linecap="round" />
<path d="M286.35 545.25 L456.05 375.55" fill="none" stroke="#1c1a19" stroke-width="1.35" stroke-linejoin="round" stroke-linecap="round" />
<path d="M286.35 552.85 L456.05 383.15" fill="none" stroke="#1c1a19" stroke-width="1.35" stroke-linejoin="round" stroke-linecap="round" />
<path d="M286.35 560.45 L456.05 390.75" fill="none" stroke="#1c1a19" stroke-width="1.35" stroke-linejoin="round" stroke-linecap="round" />
<path d="M286.35 568.05 L456.05 398.35" fill="none" stroke="#1c1a19" stroke-width="1.35" stroke-linejoin="round" stroke-linecap="round" />
<path d="M286.35 575.65 L456.05 405.95" fill="none" stroke="#1c1a19" stroke-width="1.35" stroke-linejoin="round" stroke-linecap="round" />
<path d="M286.35 583.25 L456.05 413.55" fill="none" stroke="#1c1a19" stroke-width="1.35" stroke-linejoin="round" stroke-linecap="round" />
</g>
<clipPath id="c7"><polygon points="535.20,435.70 573.70,415.00 572.70,455.40 535.60,474.40"/></clipPath>
<g clip-path="url(#c7)">
<path d="M482.42 485.12 L665.28 329.68" fill="none" stroke="#1c1a19" stroke-width="1.35" stroke-linejoin="round" stroke-linecap="round" />
<path d="M482.27 492.72 L665.13 337.28" fill="none" stroke="#1c1a19" stroke-width="1.35" stroke-linejoin="round" stroke-linecap="round" />
<path d="M482.12 500.32 L664.98 344.88" fill="none" stroke="#1c1a19" stroke-width="1.35" stroke-linejoin="round" stroke-linecap="round" />
<path d="M481.97 507.92 L664.83 352.48" fill="none" stroke="#1c1a19" stroke-width="1.35" stroke-linejoin="round" stroke-linecap="round" />
<path d="M481.82 515.52 L664.68 360.08" fill="none" stroke="#1c1a19" stroke-width="1.35" stroke-linejoin="round" stroke-linecap="round" />
<path d="M481.67 523.12 L664.53 367.68" fill="none" stroke="#1c1a19" stroke-width="1.35" stroke-linejoin="round" stroke-linecap="round" />
<path d="M481.52 530.72 L664.38 375.28" fill="none" stroke="#1c1a19" stroke-width="1.35" stroke-linejoin="round" stroke-linecap="round" />
<path d="M481.37 538.32 L664.23 382.88" fill="none" stroke="#1c1a19" stroke-width="1.35" stroke-linejoin="round" stroke-linecap="round" />
<path d="M481.22 545.92 L664.08 390.48" fill="none" stroke="#1c1a19" stroke-width="1.35" stroke-linejoin="round" stroke-linecap="round" />
<path d="M481.07 553.52 L663.93 398.08" fill="none" stroke="#1c1a19" stroke-width="1.35" stroke-linejoin="round" stroke-linecap="round" />
<path d="M480.92 561.12 L663.78 405.68" fill="none" stroke="#1c1a19" stroke-width="1.35" stroke-linejoin="round" stroke-linecap="round" />
<path d="M480.77 568.72 L663.63 413.28" fill="none" stroke="#1c1a19" stroke-width="1.35" stroke-linejoin="round" stroke-linecap="round" />
</g>
<clipPath id="c8"><polygon points="535.20,435.70 573.70,415.00 572.70,455.40 535.60,474.40"/></clipPath>
<g clip-path="url(#c8)">
<path d="M492.98 326.21 L654.42 503.79" fill="none" stroke="#1c1a19" stroke-width="1.35" stroke-linejoin="round" stroke-linecap="round" />
<path d="M485.78 330.08 L647.22 507.66" fill="none" stroke="#1c1a19" stroke-width="1.35" stroke-linejoin="round" stroke-linecap="round" />
<path d="M478.58 333.95 L640.02 511.53" fill="none" stroke="#1c1a19" stroke-width="1.35" stroke-linejoin="round" stroke-linecap="round" />
<path d="M471.38 337.82 L632.82 515.40" fill="none" stroke="#1c1a19" stroke-width="1.35" stroke-linejoin="round" stroke-linecap="round" />
<path d="M464.18 341.69 L625.62 519.27" fill="none" stroke="#1c1a19" stroke-width="1.35" stroke-linejoin="round" stroke-linecap="round" />
<path d="M456.98 345.56 L618.42 523.14" fill="none" stroke="#1c1a19" stroke-width="1.35" stroke-linejoin="round" stroke-linecap="round" />
<path d="M449.78 349.43 L611.22 527.01" fill="none" stroke="#1c1a19" stroke-width="1.35" stroke-linejoin="round" stroke-linecap="round" />
<path d="M442.58 353.30 L604.02 530.88" fill="none" stroke="#1c1a19" stroke-width="1.35" stroke-linejoin="round" stroke-linecap="round" />
<path d="M435.38 357.17 L596.82 534.75" fill="none" stroke="#1c1a19" stroke-width="1.35" stroke-linejoin="round" stroke-linecap="round" />
<path d="M428.18 361.04 L589.62 538.62" fill="none" stroke="#1c1a19" stroke-width="1.35" stroke-linejoin="round" stroke-linecap="round" />
<path d="M420.98 364.91 L582.42 542.49" fill="none" stroke="#1c1a19" stroke-width="1.35" stroke-linejoin="round" stroke-linecap="round" />
<path d="M413.78 368.78 L575.22 546.36" fill="none" stroke="#1c1a19" stroke-width="1.35" stroke-linejoin="round" stroke-linecap="round" />
<path d="M406.58 372.65 L568.02 550.23" fill="none" stroke="#1c1a19" stroke-width="1.35" stroke-linejoin="round" stroke-linecap="round" />
</g>
<clipPath id="c9"><polygon points="513.20,435.20 535.20,435.70 535.60,474.40 513.20,474.40"/></clipPath>
<g clip-path="url(#c9)">
<path d="M448.20 511.15 L622.20 345.85" fill="none" stroke="#1c1a19" stroke-width="1.35" stroke-linejoin="round" stroke-linecap="round" />
<path d="M448.20 518.35 L622.20 353.05" fill="none" stroke="#1c1a19" stroke-width="1.35" stroke-linejoin="round" stroke-linecap="round" />
<path d="M448.20 525.55 L622.20 360.25" fill="none" stroke="#1c1a19" stroke-width="1.35" stroke-linejoin="round" stroke-linecap="round" />
<path d="M448.20 532.75 L622.20 367.45" fill="none" stroke="#1c1a19" stroke-width="1.35" stroke-linejoin="round" stroke-linecap="round" />
<path d="M448.20 539.95 L622.20 374.65" fill="none" stroke="#1c1a19" stroke-width="1.35" stroke-linejoin="round" stroke-linecap="round" />
<path d="M448.20 547.15 L622.20 381.85" fill="none" stroke="#1c1a19" stroke-width="1.35" stroke-linejoin="round" stroke-linecap="round" />
<path d="M448.20 554.35 L622.20 389.05" fill="none" stroke="#1c1a19" stroke-width="1.35" stroke-linejoin="round" stroke-linecap="round" />
<path d="M448.20 561.55 L622.20 396.25" fill="none" stroke="#1c1a19" stroke-width="1.35" stroke-linejoin="round" stroke-linecap="round" />
<path d="M448.20 568.75 L622.20 403.45" fill="none" stroke="#1c1a19" stroke-width="1.35" stroke-linejoin="round" stroke-linecap="round" />
<path d="M448.20 575.95 L622.20 410.65" fill="none" stroke="#1c1a19" stroke-width="1.35" stroke-linejoin="round" stroke-linecap="round" />
<path d="M448.20 583.15 L622.20 417.85" fill="none" stroke="#1c1a19" stroke-width="1.35" stroke-linejoin="round" stroke-linecap="round" />
</g>
<clipPath id="c10"><polygon points="513.20,435.20 535.20,435.70 535.60,474.40 513.20,474.40"/></clipPath>
<g clip-path="url(#c10)">
<path d="M452.44 316.10 L617.96 489.90" fill="none" stroke="#1c1a19" stroke-width="1.35" stroke-linejoin="round" stroke-linecap="round" />
<path d="M452.44 323.30 L617.96 497.10" fill="none" stroke="#1c1a19" stroke-width="1.35" stroke-linejoin="round" stroke-linecap="round" />
<path d="M452.44 330.50 L617.96 504.30" fill="none" stroke="#1c1a19" stroke-width="1.35" stroke-linejoin="round" stroke-linecap="round" />
<path d="M452.44 337.70 L617.96 511.50" fill="none" stroke="#1c1a19" stroke-width="1.35" stroke-linejoin="round" stroke-linecap="round" />
<path d="M452.44 344.90 L617.96 518.70" fill="none" stroke="#1c1a19" stroke-width="1.35" stroke-linejoin="round" stroke-linecap="round" />
<path d="M452.44 352.10 L617.96 525.90" fill="none" stroke="#1c1a19" stroke-width="1.35" stroke-linejoin="round" stroke-linecap="round" />
<path d="M452.44 359.30 L617.96 533.10" fill="none" stroke="#1c1a19" stroke-width="1.35" stroke-linejoin="round" stroke-linecap="round" />
<path d="M452.44 366.50 L617.96 540.30" fill="none" stroke="#1c1a19" stroke-width="1.35" stroke-linejoin="round" stroke-linecap="round" />
<path d="M452.44 373.70 L617.96 547.50" fill="none" stroke="#1c1a19" stroke-width="1.35" stroke-linejoin="round" stroke-linecap="round" />
<path d="M452.44 380.90 L617.96 554.70" fill="none" stroke="#1c1a19" stroke-width="1.35" stroke-linejoin="round" stroke-linecap="round" />
<path d="M452.44 388.10 L617.96 561.90" fill="none" stroke="#1c1a19" stroke-width="1.35" stroke-linejoin="round" stroke-linecap="round" />
<path d="M452.44 395.30 L617.96 569.10" fill="none" stroke="#1c1a19" stroke-width="1.35" stroke-linejoin="round" stroke-linecap="round" />
</g>
<path d="M353.60 389.60 L356.80 419.00" fill="none" stroke="#1c1a19" stroke-width="0.9" stroke-linejoin="round" stroke-linecap="round" stroke-dasharray="2.2 1.6" stroke-linecap="butt"/>
<path d="M458.80 339.40 L458.80 367.00" fill="none" stroke="#1c1a19" stroke-width="0.9" stroke-linejoin="round" stroke-linecap="round" stroke-dasharray="2.2 1.6" stroke-linecap="butt"/>
<path d="M476.60 339.40 L476.90 370.60" fill="none" stroke="#1c1a19" stroke-width="0.9" stroke-linejoin="round" stroke-linecap="round" stroke-dasharray="2.2 1.6" stroke-linecap="butt"/>
<path d="M554.40 391.20 L554.20 421.60" fill="none" stroke="#1c1a19" stroke-width="0.9" stroke-linejoin="round" stroke-linecap="round" stroke-dasharray="2.2 1.6" stroke-linecap="butt"/>
<path d="M355.7 418.6 L358.3 418.6 L357.0 422.0 Z" fill="#1c1a19"/>
<path d="M552.8000000000001 421.20000000000005 L555.4 421.20000000000005 L554.1 424.6 Z" fill="#1c1a19"/>
<path d="M457.7 366.20000000000005 L459.90000000000003 366.20000000000005 L458.8 368.6 Z" fill="#1c1a19"/>
<path d="M475.79999999999995 369.8 L478.0 369.8 L476.9 372.2 Z" fill="#1c1a19"/>
<path d="M333.10 269.40 L456.90 240.00" fill="none" stroke="#1c1a19" stroke-width="1.15" stroke-linejoin="round" stroke-linecap="round" />
<path d="M333.80 271.30 L457.70 241.90" fill="none" stroke="#1c1a19" stroke-width="1.15" stroke-linejoin="round" stroke-linecap="round" />
<path d="M343.80 275.00 L458.10 246.30" fill="none" stroke="#1c1a19" stroke-width="1.15" stroke-linejoin="round" stroke-linecap="round" />
<path d="M465.00 240.00 L571.90 271.30" fill="none" stroke="#1c1a19" stroke-width="1.15" stroke-linejoin="round" stroke-linecap="round" />
<path d="M465.50 241.90 L570.00 273.10" fill="none" stroke="#1c1a19" stroke-width="1.15" stroke-linejoin="round" stroke-linecap="round" />
<path d="M461.90 245.00 L563.10 276.30" fill="none" stroke="#1c1a19" stroke-width="1.15" stroke-linejoin="round" stroke-linecap="round" />
<path d="M458.10 246.30 L461.90 245.00" fill="none" stroke="#1c1a19" stroke-width="1.15" stroke-linejoin="round" stroke-linecap="round" />
<path d="M343.80 373.10 L456.90 332.50" fill="none" stroke="#1c1a19" stroke-width="1.15" stroke-linejoin="round" stroke-linecap="round" />
<path d="M344.50 375.00 L458.10 333.80" fill="none" stroke="#1c1a19" stroke-width="1.15" stroke-linejoin="round" stroke-linecap="round" />
<path d="M355.00 376.30 L463.10 336.90" fill="none" stroke="#1c1a19" stroke-width="1.15" stroke-linejoin="round" stroke-linecap="round" />
<path d="M467.50 331.90 L567.50 372.60" fill="none" stroke="#1c1a19" stroke-width="1.15" stroke-linejoin="round" stroke-linecap="round" />
<path d="M465.60 333.10 L569.00 375.60" fill="none" stroke="#1c1a19" stroke-width="1.15" stroke-linejoin="round" stroke-linecap="round" />
<path d="M463.10 336.90 L556.30 376.30" fill="none" stroke="#1c1a19" stroke-width="1.15" stroke-linejoin="round" stroke-linecap="round" />
<path d="M456.90 332.50 L458.10 333.80 L463.10 336.90" fill="none" stroke="#1c1a19" stroke-width="1.15" stroke-linejoin="round" stroke-linecap="round" />
<path d="M456.50 199.40 L460.40 197.80 L464.40 198.90 L467.50 332.00 L463.50 333.20 L460.30 331.30 Z" fill="#fff" stroke="#fff" stroke-width="0.1" stroke-linejoin="round" stroke-linecap="round" />
<path d="M456.50 199.40 L460.30 331.30" fill="none" stroke="#1c1a19" stroke-width="1.15" stroke-linejoin="round" stroke-linecap="round" />
<path d="M464.40 198.90 L467.50 332.00" fill="none" stroke="#1c1a19" stroke-width="1.15" stroke-linejoin="round" stroke-linecap="round" />
<path d="M456.50 199.40 L460.40 197.80 L464.40 198.90 L460.40 200.70 Z" fill="none" stroke="#1c1a19" stroke-width="1.15" stroke-linejoin="round" stroke-linecap="round" />
<path d="M460.40 200.70 L463.50 332.60" fill="none" stroke="#1c1a19" stroke-width="1.15" stroke-linejoin="round" stroke-linecap="round" />
<circle cx="467.0" cy="241.4" r="1.0" fill="#1c1a19"/>
<path d="M319.80 225.80 L323.80 224.00 L328.50 225.60 L343.10 373.10 L338.80 375.60 L336.30 377.80 Z" fill="#fff" stroke="#fff" stroke-width="0.1" stroke-linejoin="round" stroke-linecap="round" />
<path d="M319.80 225.80 L336.30 377.80" fill="none" stroke="#1c1a19" stroke-width="1.15" stroke-linejoin="round" stroke-linecap="round" />
<path d="M328.50 225.60 L343.10 373.10" fill="none" stroke="#1c1a19" stroke-width="1.15" stroke-linejoin="round" stroke-linecap="round" />
<path d="M319.80 225.80 L323.80 224.00 L328.50 225.60 L324.00 227.50 Z" fill="none" stroke="#1c1a19" stroke-width="1.15" stroke-linejoin="round" stroke-linecap="round" />
<path d="M324.00 227.50 L338.80 375.60" fill="none" stroke="#1c1a19" stroke-width="1.15" stroke-linejoin="round" stroke-linecap="round" />
<path d="M328.70 272.90 L353.60 281.40 L354.20 288.60 L329.30 279.00 Z" fill="#fff" stroke="#fff" stroke-width="0.1" stroke-linejoin="round" stroke-linecap="round" />
<path d="M328.70 272.90 L353.60 281.40" fill="none" stroke="#1c1a19" stroke-width="1.15" stroke-linejoin="round" stroke-linecap="round" />
<path d="M328.90 275.60 L353.80 284.20" fill="none" stroke="#1c1a19" stroke-width="1.15" stroke-linejoin="round" stroke-linecap="round" />
<path d="M329.30 279.00 L354.20 288.60" fill="none" stroke="#1c1a19" stroke-width="1.15" stroke-linejoin="round" stroke-linecap="round" />
<path d="M336.30 377.80 L368.10 398.10" fill="none" stroke="#1c1a19" stroke-width="1.15" stroke-linejoin="round" stroke-linecap="round" />
<path d="M338.80 375.60 L363.80 391.30" fill="none" stroke="#1c1a19" stroke-width="1.15" stroke-linejoin="round" stroke-linecap="round" />
<path d="M343.10 373.40 L363.10 385.00" fill="none" stroke="#1c1a19" stroke-width="1.15" stroke-linejoin="round" stroke-linecap="round" />
<path d="M350.30 238.30 L354.40 236.50 L359.40 237.80 L372.50 395.40 L368.10 398.10 L363.80 390.60 Z" fill="#fff" stroke="#fff" stroke-width="0.1" stroke-linejoin="round" stroke-linecap="round" />
<path d="M350.30 238.30 L363.80 390.60" fill="none" stroke="#1c1a19" stroke-width="1.15" stroke-linejoin="round" stroke-linecap="round" />
<path d="M359.40 237.80 L372.50 395.40" fill="none" stroke="#1c1a19" stroke-width="1.15" stroke-linejoin="round" stroke-linecap="round" />
<path d="M350.30 238.30 L354.40 236.50 L359.40 237.80 L355.00 239.80 Z" fill="none" stroke="#1c1a19" stroke-width="1.15" stroke-linejoin="round" stroke-linecap="round" />
<path d="M355.00 239.80 L368.10 398.10" fill="none" stroke="#1c1a19" stroke-width="1.15" stroke-linejoin="round" stroke-linecap="round" />
<path d="M368.10 398.10 L372.50 395.40" fill="none" stroke="#1c1a19" stroke-width="1.15" stroke-linejoin="round" stroke-linecap="round" />
<path d="M573.10 226.90 L577.50 225.20 L582.30 226.60 L575.00 381.60 L571.30 377.50 L567.50 376.30 Z" fill="#fff" stroke="#fff" stroke-width="0.1" stroke-linejoin="round" stroke-linecap="round" />
<path d="M573.10 226.90 L567.50 376.30" fill="none" stroke="#1c1a19" stroke-width="1.15" stroke-linejoin="round" stroke-linecap="round" />
<path d="M582.30 226.60 L575.00 381.80" fill="none" stroke="#1c1a19" stroke-width="1.15" stroke-linejoin="round" stroke-linecap="round" />
<path d="M573.10 226.90 L577.50 225.20 L582.30 226.60 L578.10 228.50 Z" fill="none" stroke="#1c1a19" stroke-width="1.15" stroke-linejoin="round" stroke-linecap="round" />
<path d="M578.10 228.50 L571.30 377.50" fill="none" stroke="#1c1a19" stroke-width="1.15" stroke-linejoin="round" stroke-linecap="round" />
<path d="M542.50 283.10 L575.80 273.70 L575.40 280.60 L542.50 290.60 Z" fill="#fff" stroke="#fff" stroke-width="0.1" stroke-linejoin="round" stroke-linecap="round" />
<path d="M542.50 283.10 L575.80 273.70" fill="none" stroke="#1c1a19" stroke-width="1.15" stroke-linejoin="round" stroke-linecap="round" />
<path d="M542.50 285.20 L575.70 275.90" fill="none" stroke="#1c1a19" stroke-width="1.15" stroke-linejoin="round" stroke-linecap="round" />
<path d="M542.50 290.60 L575.40 280.60" fill="none" stroke="#1c1a19" stroke-width="1.15" stroke-linejoin="round" stroke-linecap="round" />
<path d="M539.40 397.50 L575.00 381.80" fill="none" stroke="#1c1a19" stroke-width="1.15" stroke-linejoin="round" stroke-linecap="round" />
<path d="M540.00 391.90 L571.30 377.50" fill="none" stroke="#1c1a19" stroke-width="1.15" stroke-linejoin="round" stroke-linecap="round" />
<path d="M540.00 388.10 L567.50 376.30" fill="none" stroke="#1c1a19" stroke-width="1.15" stroke-linejoin="round" stroke-linecap="round" />
<path d="M533.10 237.30 L537.50 235.60 L543.10 237.30 L539.40 397.50 L535.60 399.00 L531.90 397.50 Z" fill="#fff" stroke="#fff" stroke-width="0.1" stroke-linejoin="round" stroke-linecap="round" />
<path d="M533.10 237.30 L531.90 397.50" fill="none" stroke="#1c1a19" stroke-width="1.15" stroke-linejoin="round" stroke-linecap="round" />
<path d="M543.10 237.30 L539.40 397.50" fill="none" stroke="#1c1a19" stroke-width="1.15" stroke-linejoin="round" stroke-linecap="round" />
<path d="M533.10 237.30 L537.50 235.60 L543.10 237.30 L538.10 239.00 Z" fill="none" stroke="#1c1a19" stroke-width="1.15" stroke-linejoin="round" stroke-linecap="round" />
<path d="M538.10 239.00 L535.60 399.00" fill="none" stroke="#1c1a19" stroke-width="1.15" stroke-linejoin="round" stroke-linecap="round" />
<path d="M531.90 397.50 L535.60 399.00 L539.40 397.50" fill="none" stroke="#1c1a19" stroke-width="1.15" stroke-linejoin="round" stroke-linecap="round" />
<path d="M352.80 373.40 L352.80 382.40" fill="none" stroke="#1c1a19" stroke-width="1.6" stroke-linejoin="round" stroke-linecap="round" />
<rect x="351.5" y="372.79999999999995" width="2.6" height="2.6" fill="#1c1a19"/>
<path d="M351.5 379.4 L354.1 379.4 L352.8 382.79999999999995 Z" fill="#1c1a19"/>
<path d="M555.00 375.80 L555.00 385.00" fill="none" stroke="#1c1a19" stroke-width="1.6" stroke-linejoin="round" stroke-linecap="round" />
<rect x="553.7" y="375.2" width="2.6" height="2.6" fill="#1c1a19"/>
<path d="M553.7 382.0 L556.3 382.0 L555.0 385.4 Z" fill="#1c1a19"/>
<path d="M457.50 325.60 L457.50 331.40" fill="none" stroke="#1c1a19" stroke-width="1.2" stroke-linejoin="round" stroke-linecap="round" />
<rect x="456.2" y="325.0" width="2.6" height="2.6" fill="#1c1a19"/>
<path d="M456.2 328.4 L458.8 328.4 L457.5 331.79999999999995 Z" fill="#1c1a19"/>
<path d="M476.30 328.20 L476.30 334.00" fill="none" stroke="#1c1a19" stroke-width="1.2" stroke-linejoin="round" stroke-linecap="round" />
<rect x="475.0" y="327.59999999999997" width="2.6" height="2.6" fill="#1c1a19"/>
<path d="M475.0 331.0 L477.6 331.0 L476.3 334.4 Z" fill="#1c1a19"/>
<text x="423.0" y="324.9" font-size="19.6" fill="#1c1a19" text-anchor="middle" >C</text>
<text x="516.4" y="305.5" font-size="19.6" fill="#1c1a19" text-anchor="middle" >D</text>
<text x="610.4" y="268.0" font-size="19.6" fill="#1c1a19" text-anchor="middle" >B</text>
<text x="320.3" y="471.5" font-size="19.6" fill="#1c1a19" text-anchor="middle" >A</text>
<path d="M429.60 319.30 L456.60 325.00" fill="none" stroke="#1c1a19" stroke-width="0.8" stroke-linejoin="round" stroke-linecap="round" />
<path d="M508.40 298.20 L481.30 305.60" fill="none" stroke="#1c1a19" stroke-width="0.8" stroke-linejoin="round" stroke-linecap="round" />
<path d="M603.60 261.00 L576.90 270.00" fill="none" stroke="#1c1a19" stroke-width="0.8" stroke-linejoin="round" stroke-linecap="round" />
<path d="M327.60 461.00 L356.00 441.60" fill="none" stroke="#1c1a19" stroke-width="0.8" stroke-linejoin="round" stroke-linecap="round" />
<path d="M481.30 305.80 L476.60 305.80 L476.60 319.40" fill="none" stroke="#1c1a19" stroke-width="1.6" stroke-linejoin="round" stroke-linecap="round" />
<ellipse cx="475.8" cy="312.6" rx="7.3" ry="2.3" fill="none" stroke="#1c1a19" stroke-width="0.8" stroke-dasharray="30 6" stroke-dashoffset="-21"/>
<path d="M472.0 313.4 L474.8 314.4 L474.2 316.6 Z" fill="#1c1a19"/>
<path d="M320.60 664.00 L320.60 779.30 L325.30 781.00 L330.30 779.30 L330.30 664.00" fill="none" stroke="#1c1a19" stroke-width="1.25" stroke-linejoin="round" stroke-linecap="round" />
<path d="M325.30 664.00 L325.30 781.00" fill="none" stroke="#1c1a19" stroke-width="1.25" stroke-linejoin="round" stroke-linecap="round" />
<path d="M300.00 734.80 L320.60 727.00 L325.30 729.20 L330.30 727.00 L350.00 734.00 L350.00 743.60 L325.30 734.60 L300.00 744.20 Z" fill="#fff" stroke="#fff" stroke-width="0.1" stroke-linejoin="round" stroke-linecap="round" />
<path d="M320.60 727.00 L183.20 779.40" fill="none" stroke="#1c1a19" stroke-width="1.25" stroke-linejoin="round" stroke-linecap="round" />
<path d="M325.30 729.20 L182.50 782.30" fill="none" stroke="#1c1a19" stroke-width="1.25" stroke-linejoin="round" stroke-linecap="round" />
<path d="M325.30 734.60 L190.30 787.00" fill="none" stroke="#1c1a19" stroke-width="1.25" stroke-linejoin="round" stroke-linecap="round" />
<path d="M330.30 727.00 L474.00 778.00" fill="none" stroke="#1c1a19" stroke-width="1.25" stroke-linejoin="round" stroke-linecap="round" />
<path d="M325.30 729.20 L478.90 782.30" fill="none" stroke="#1c1a19" stroke-width="1.25" stroke-linejoin="round" stroke-linecap="round" />
<path d="M325.30 734.60 L467.00 785.00" fill="none" stroke="#1c1a19" stroke-width="1.25" stroke-linejoin="round" stroke-linecap="round" />
<path d="M325.30 729.20 L325.30 734.60" fill="none" stroke="#1c1a19" stroke-width="1.25" stroke-linejoin="round" stroke-linecap="round" />
<path d="M168.30 651.00 L179.00 656.00 L183.20 844.20 L178.00 846.40 L172.50 845.40 Z" fill="#fff" stroke="#fff" stroke-width="0.1" stroke-linejoin="round" stroke-linecap="round" />
<path d="M168.30 651.00 L172.50 845.40 L177.60 846.60 L183.20 844.20 L179.00 660.60" fill="none" stroke="#1c1a19" stroke-width="1.25" stroke-linejoin="round" stroke-linecap="round" />
<path d="M173.50 654.60 L177.60 846.60" fill="none" stroke="#1c1a19" stroke-width="1.25" stroke-linejoin="round" stroke-linecap="round" />
<path d="M485.60 651.00 L474.40 656.00 L473.40 840.00 L478.60 842.40 L483.40 840.60 Z" fill="#fff" stroke="#fff" stroke-width="0.1" stroke-linejoin="round" stroke-linecap="round" />
<path d="M485.60 651.60 L483.40 840.60 L478.60 842.40 L473.40 840.00 L474.40 659.80" fill="none" stroke="#1c1a19" stroke-width="1.25" stroke-linejoin="round" stroke-linecap="round" />
<path d="M481.10 656.60 L478.60 842.40" fill="none" stroke="#1c1a19" stroke-width="1.25" stroke-linejoin="round" stroke-linecap="round" />
<path d="M173.50 654.80 L210.60 669.40" fill="none" stroke="#1c1a19" stroke-width="1.25" stroke-linejoin="round" stroke-linecap="round" />
<path d="M179.00 660.60 L210.40 670.80" fill="none" stroke="#1c1a19" stroke-width="1.25" stroke-linejoin="round" stroke-linecap="round" />
<path d="M481.10 656.60 L446.80 668.20" fill="none" stroke="#1c1a19" stroke-width="1.25" stroke-linejoin="round" stroke-linecap="round" />
<path d="M474.40 659.80 L447.40 670.40" fill="none" stroke="#1c1a19" stroke-width="1.25" stroke-linejoin="round" stroke-linecap="round" />
<path d="M182.20 779.80 L176.90 785.10 L176.40 794.20 L210.60 809.00 L210.60 794.80 L190.30 787.00 Z" fill="#fff" stroke="#fff" stroke-width="0.1" stroke-linejoin="round" stroke-linecap="round" />
<path d="M190.30 787.00 L210.60 794.80" fill="none" stroke="#1c1a19" stroke-width="1.25" stroke-linejoin="round" stroke-linecap="round" />
<path d="M195.00 785.20 L190.30 787.00" fill="none" stroke="#1c1a19" stroke-width="1.25" stroke-linejoin="round" stroke-linecap="round" />
<path d="M190.00 779.50 L182.50 782.30 L176.90 785.10 L210.60 797.00" fill="none" stroke="#1c1a19" stroke-width="1.25" stroke-linejoin="round" stroke-linecap="round" />
<path d="M176.40 789.30 L210.60 802.70" fill="none" stroke="#1c1a19" stroke-width="1.25" stroke-linejoin="round" stroke-linecap="round" />
<path d="M176.40 794.20 L210.60 809.00" fill="none" stroke="#1c1a19" stroke-width="1.25" stroke-linejoin="round" stroke-linecap="round" />
<path d="M474.40 778.40 L478.90 782.30 L478.90 790.00 L446.80 806.20 L446.80 792.80 L467.00 785.00 Z" fill="#fff" stroke="#fff" stroke-width="0.1" stroke-linejoin="round" stroke-linecap="round" />
<path d="M467.00 785.00 L446.80 792.80" fill="none" stroke="#1c1a19" stroke-width="1.25" stroke-linejoin="round" stroke-linecap="round" />
<path d="M462.00 783.20 L467.00 785.00" fill="none" stroke="#1c1a19" stroke-width="1.25" stroke-linejoin="round" stroke-linecap="round" />
<path d="M470.00 779.20 L478.90 782.30 L446.80 794.20" fill="none" stroke="#1c1a19" stroke-width="1.25" stroke-linejoin="round" stroke-linecap="round" />
<path d="M478.90 785.20 L446.80 798.50" fill="none" stroke="#1c1a19" stroke-width="1.25" stroke-linejoin="round" stroke-linecap="round" />
<path d="M478.90 790.00 L446.80 806.20" fill="none" stroke="#1c1a19" stroke-width="1.25" stroke-linejoin="round" stroke-linecap="round" />
<path d="M210.60 664.00 L220.60 664.00 L223.50 865.20 L217.50 868.00 L211.30 866.40 Z" fill="#fff" stroke="#fff" stroke-width="0.1" stroke-linejoin="round" stroke-linecap="round" />
<path d="M210.60 669.40 L211.30 866.40 L217.50 868.00 L223.50 865.20 L220.60 665.00" fill="none" stroke="#1c1a19" stroke-width="1.25" stroke-linejoin="round" stroke-linecap="round" />
<path d="M215.00 665.40 L217.50 868.00" fill="none" stroke="#1c1a19" stroke-width="1.25" stroke-linejoin="round" stroke-linecap="round" />
<path d="M446.80 664.00 L436.10 664.00 L435.50 864.00 L441.10 866.80 L446.80 864.20 Z" fill="#fff" stroke="#fff" stroke-width="0.1" stroke-linejoin="round" stroke-linecap="round" />
<path d="M446.80 668.20 L446.80 864.20 L441.10 866.80 L435.50 864.00 L436.10 664.00" fill="none" stroke="#1c1a19" stroke-width="1.25" stroke-linejoin="round" stroke-linecap="round" />
<path d="M441.70 664.00 L441.10 866.80" fill="none" stroke="#1c1a19" stroke-width="1.25" stroke-linejoin="round" stroke-linecap="round" />
<path d="M165.50 588.90 L323.90 560.10 L487.50 586.20 L487.60 648.40 L439.40 662.40 L407.60 663.40 L247.00 665.20 L216.30 665.20 L165.80 649.60 Z" fill="#fff" stroke="#fff" stroke-width="0.1" stroke-linejoin="round" stroke-linecap="round" />
<path d="M165.50 588.90 L323.90 560.10 L487.50 586.20" fill="none" stroke="#1c1a19" stroke-width="1.25" stroke-linejoin="round" stroke-linecap="round" />
<path d="M165.5 588.9 L207.4 599.0 Q213.2 600.3 219.2 600.3 L435.2 598.6 Q441.2 598.6 447.0 597.1 L487.5 586.2" fill="none" stroke="#1c1a19" stroke-width="1.25"/>
<path d="M165.6 593.3 L205.6 603.8 Q211.6 605.2 217.6 605.2 L435.6 603.8 Q441.4 603.8 447.2 602.2 L487.4 591.2" fill="none" stroke="#1c1a19" stroke-width="1.25"/>
<path d="M165.50 588.90 L165.80 649.60" fill="none" stroke="#1c1a19" stroke-width="1.4" stroke-linejoin="round" stroke-linecap="round" />
<path d="M487.50 586.20 L487.60 648.40" fill="none" stroke="#1c1a19" stroke-width="1.4" stroke-linejoin="round" stroke-linecap="round" />
<path d="M165.8 649.6 L210.4 663.6 Q215.4 665.2 220.4 665.2 L247 665.2" fill="none" stroke="#1c1a19" stroke-width="1.4"/>
<path d="M487.6 648.4 L444.4 661.0 Q439.4 662.4 434.4 662.6 L407.6 663.4" fill="none" stroke="#1c1a19" stroke-width="1.4"/>
<path d="M248.60 605.20 L248.60 665.00 L406.40 663.40 L406.40 604.00" fill="none" stroke="#1c1a19" stroke-width="1.25" stroke-linejoin="round" stroke-linecap="round" />
<path d="M246.90 605.20 L246.90 665.20" fill="none" stroke="#1c1a19" stroke-width="1.6" stroke-linejoin="round" stroke-linecap="round" />
<path d="M407.80 604.00 L407.80 663.40" fill="none" stroke="#1c1a19" stroke-width="1.6" stroke-linejoin="round" stroke-linecap="round" />
<circle cx="325.4" cy="639.8" r="7.3" fill="none" stroke="#1c1a19" stroke-width="1.25"/>
<clipPath id="c11"><polygon points="165.60,593.30 205.60,603.80 211.60,605.00 217.60,605.20 246.90,605.20 246.90,665.20 220.40,665.20 215.40,665.00 210.40,663.60 165.80,649.60"/></clipPath>
<g clip-path="url(#c11)">
<path d="M135.60 585.42 L137.80 590.00 L140.01 594.58 L142.21 599.16 L144.42 603.74 L146.62 608.32 L148.83 612.90 L151.03 617.48 L153.24 622.05 L155.44 626.63 L157.64 631.21 L159.85 635.79 L162.05 640.37 L164.26 644.95 L166.46 649.53 L168.67 654.10 L170.87 658.68" fill="none" stroke="#1c1a19" stroke-width="1.3" stroke-linejoin="round" stroke-linecap="round" />
<path d="M148.00 588.68 L150.20 593.26 L152.41 597.84 L154.61 602.42 L156.82 606.99 L159.02 611.57 L161.23 616.15 L163.43 620.73 L165.64 625.31 L167.84 629.89 L170.04 634.47 L172.25 639.05 L174.43 643.62 L176.60 648.19 L178.76 652.76 L180.93 657.32 L183.10 661.89" fill="none" stroke="#1c1a19" stroke-width="1.3" stroke-linejoin="round" stroke-linecap="round" />
<path d="M160.40 591.93 L162.60 596.51 L164.81 601.09 L167.01 605.67 L169.22 610.25 L171.42 614.83 L173.61 619.40 L175.78 623.97 L177.95 628.54 L180.12 633.11 L182.29 637.68 L184.46 642.25 L186.69 646.84 L188.95 651.43 L191.21 656.02 L193.47 660.62 L195.72 665.21" fill="none" stroke="#1c1a19" stroke-width="1.3" stroke-linejoin="round" stroke-linecap="round" />
<path d="M172.80 595.19 L174.97 599.76 L177.14 604.33 L179.31 608.90 L181.48 613.47 L183.64 618.04 L185.85 622.61 L188.10 627.21 L190.36 631.80 L192.62 636.39 L194.88 640.99 L197.14 645.58 L199.39 650.17 L201.65 654.76 L203.91 659.36 L206.17 663.91 L208.42 668.36" fill="none" stroke="#1c1a19" stroke-width="1.3" stroke-linejoin="round" stroke-linecap="round" />
<path d="M185.00 598.39 L187.26 602.99 L189.52 607.58 L191.77 612.17 L194.03 616.76 L196.29 621.36 L198.55 625.95 L200.80 630.54 L203.06 635.13 L205.32 639.73 L207.58 644.20 L209.84 648.65 L212.55 653.03 L215.41 657.13 L218.27 661.20 L221.13 665.20 L224.00 669.20" fill="none" stroke="#1c1a19" stroke-width="1.3" stroke-linejoin="round" stroke-linecap="round" />
<path d="M197.70 601.73 L199.96 606.32 L202.22 610.91 L204.47 615.50 L206.73 620.03 L208.99 624.48 L211.47 628.97 L214.34 633.09 L217.20 637.19 L220.06 641.20 L222.92 645.20 L225.78 649.20 L229.22 653.20 L232.85 657.20 L236.47 661.20 L240.10 665.20 L243.73 669.20" fill="none" stroke="#1c1a19" stroke-width="1.3" stroke-linejoin="round" stroke-linecap="round" />
<path d="M210.40 604.76 L213.26 609.06 L216.12 613.15 L218.99 617.20 L221.85 621.20 L224.71 625.20 L227.86 629.20 L231.49 633.20 L235.11 637.20 L238.74 641.20 L242.37 645.20 L245.99 649.20 L250.11 653.20 L254.40 657.20 L258.68 661.20 L262.97 665.20 L267.25 669.20" fill="none" stroke="#1c1a19" stroke-width="1.3" stroke-linejoin="round" stroke-linecap="round" />
<path d="M226.50 605.20 L230.13 609.20 L233.75 613.20 L237.38 617.20 L241.01 621.20 L244.63 625.20 L248.51 629.20 L252.79 633.20 L257.08 637.20 L261.36 641.20 L265.64 645.20 L269.93 649.20 L274.21 653.20 L278.50 657.20 L282.78 661.20 L287.07 665.20 L291.35 669.20" fill="none" stroke="#1c1a19" stroke-width="1.3" stroke-linejoin="round" stroke-linecap="round" />
<path d="M246.90 605.20 L251.18 609.20 L255.47 613.20 L259.75 617.20 L264.04 621.20 L268.32 625.20 L272.61 629.20 L276.89 633.20 L281.18 637.20 L285.46 641.20 L289.74 645.20 L294.03 649.20 L298.31 653.20 L302.60 657.20 L306.88 661.20 L311.17 665.20 L315.45 669.20" fill="none" stroke="#1c1a19" stroke-width="1.3" stroke-linejoin="round" stroke-linecap="round" />
<path d="M172.80 595.19 L170.60 598.61 L168.39 602.03 L166.19 605.45 L163.98 608.88 L161.78 612.30 L159.57 615.72 L157.37 619.14 L155.16 622.56 L152.96 625.98 L150.76 629.40 L148.55 632.82 L146.35 636.25 L144.14 639.67 L141.94 643.09 L139.73 646.51 L137.53 649.93" fill="none" stroke="#1c1a19" stroke-width="1.3" stroke-linejoin="round" stroke-linecap="round" />
<path d="M185.00 598.39 L182.83 601.82 L180.66 605.25 L178.49 608.68 L176.32 612.12 L174.16 615.55 L171.97 618.97 L169.77 622.39 L167.56 625.82 L165.36 629.24 L163.16 632.66 L160.95 636.08 L158.75 639.50 L156.54 642.92 L154.34 646.34 L152.13 649.76 L149.93 653.19" fill="none" stroke="#1c1a19" stroke-width="1.3" stroke-linejoin="round" stroke-linecap="round" />
<path d="M197.70 601.73 L195.44 605.13 L193.18 608.54 L190.93 611.95 L188.67 615.36 L186.41 618.76 L184.19 622.18 L182.02 625.61 L179.85 629.04 L177.68 632.47 L175.51 635.90 L173.34 639.33 L171.15 642.76 L168.94 646.18 L166.74 649.60 L164.53 653.02 L162.33 656.44" fill="none" stroke="#1c1a19" stroke-width="1.3" stroke-linejoin="round" stroke-linecap="round" />
<path d="M210.40 604.76 L208.14 608.31 L205.88 611.86 L203.63 615.28 L201.37 618.69 L199.11 622.10 L196.85 625.50 L194.60 628.91 L192.34 632.32 L190.08 635.73 L187.82 639.13 L185.56 642.54 L183.37 645.97 L181.20 649.40 L179.04 652.83 L176.87 656.26 L174.70 659.69" fill="none" stroke="#1c1a19" stroke-width="1.3" stroke-linejoin="round" stroke-linecap="round" />
<path d="M226.50 605.20 L223.64 609.20 L220.78 613.20 L217.91 617.20 L215.05 621.12 L212.19 625.02 L209.55 628.59 L207.30 632.14 L205.04 635.65 L202.78 639.06 L200.52 642.47 L198.26 645.87 L196.01 649.28 L193.75 652.69 L191.49 656.10 L189.23 659.50 L186.98 662.91" fill="none" stroke="#1c1a19" stroke-width="1.3" stroke-linejoin="round" stroke-linecap="round" />
<path d="M246.90 605.20 L243.27 609.20 L239.65 613.20 L236.02 617.20 L232.39 621.20 L228.77 625.20 L225.43 629.20 L222.56 633.20 L219.70 637.20 L216.84 641.17 L213.98 645.08 L211.12 648.90 L208.71 652.42 L206.45 655.97 L204.19 659.43 L201.93 662.84 L199.68 666.24" fill="none" stroke="#1c1a19" stroke-width="1.3" stroke-linejoin="round" stroke-linecap="round" />
<path d="M271.00 605.20 L266.72 609.20 L262.43 613.20 L258.15 617.20 L253.86 621.20 L249.58 625.20 L245.54 629.20 L241.91 633.20 L238.29 637.20 L234.66 641.20 L231.03 645.20 L227.41 649.20 L224.35 653.20 L221.49 657.20 L218.63 661.20 L215.77 665.14 L212.90 669.04" fill="none" stroke="#1c1a19" stroke-width="1.3" stroke-linejoin="round" stroke-linecap="round" />
<path d="M295.10 605.20 L290.82 609.20 L286.53 613.20 L282.25 617.20 L277.96 621.20 L273.68 625.20 L269.39 629.20 L265.11 633.20 L260.82 637.20 L256.54 641.20 L252.26 645.20 L247.97 649.20 L244.18 653.20 L240.55 657.20 L236.93 661.20 L233.30 665.20 L229.67 669.20" fill="none" stroke="#1c1a19" stroke-width="1.3" stroke-linejoin="round" stroke-linecap="round" />
</g>
<clipPath id="c12"><polygon points="407.80,604.00 435.60,603.80 441.40,603.60 447.20,602.20 487.40,591.20 487.60,648.40 444.40,661.00 439.40,662.20 434.40,662.60 407.80,663.40"/></clipPath>
<g clip-path="url(#c12)">
<path d="M354.80 604.38 L358.60 608.32 L362.41 612.25 L366.21 616.19 L370.02 620.12 L373.82 624.06 L377.62 627.99 L381.43 631.93 L385.23 635.86 L389.04 639.80 L392.84 643.73 L396.64 647.67 L400.45 651.60 L404.25 655.54 L408.06 659.47 L411.86 663.41 L415.66 667.34" fill="none" stroke="#1c1a19" stroke-width="1.3" stroke-linejoin="round" stroke-linecap="round" />
<path d="M376.40 604.23 L380.20 608.16 L384.01 612.10 L387.81 616.03 L391.62 619.97 L395.42 623.90 L399.22 627.84 L403.03 631.77 L406.83 635.71 L410.64 639.64 L414.44 643.58 L418.24 647.51 L421.72 651.45 L425.01 655.39 L428.31 659.33 L431.60 663.27 L434.89 667.21" fill="none" stroke="#1c1a19" stroke-width="1.3" stroke-linejoin="round" stroke-linecap="round" />
<path d="M398.00 604.07 L401.80 608.01 L405.61 611.94 L409.41 615.88 L413.22 619.81 L417.02 623.75 L420.66 627.68 L423.95 631.62 L427.25 635.56 L430.54 639.50 L433.83 643.44 L437.13 647.33 L439.90 651.20 L442.38 654.88 L444.86 658.24 L447.35 661.60 L449.83 664.88" fill="none" stroke="#1c1a19" stroke-width="1.3" stroke-linejoin="round" stroke-linecap="round" />
<path d="M419.60 603.92 L422.89 607.85 L426.19 611.79 L429.48 615.73 L432.77 619.67 L436.07 623.60 L439.10 627.45 L441.58 631.29 L444.07 634.66 L446.55 638.02 L449.03 641.32 L451.51 644.61 L453.56 648.01 L455.35 651.48 L457.15 654.95 L458.94 658.42 L460.74 661.89" fill="none" stroke="#1c1a19" stroke-width="1.3" stroke-linejoin="round" stroke-linecap="round" />
<path d="M438.30 603.71 L440.78 607.58 L443.27 611.07 L445.75 614.44 L448.23 617.77 L450.72 621.05 L452.98 624.39 L454.77 627.86 L456.57 631.34 L458.37 634.81 L460.16 638.28 L461.96 641.75 L463.80 645.21 L465.67 648.66 L467.53 652.11 L469.40 655.56 L471.27 659.01" fill="none" stroke="#1c1a19" stroke-width="1.3" stroke-linejoin="round" stroke-linecap="round" />
<path d="M452.40 600.78 L454.20 604.25 L455.99 607.72 L457.79 611.19 L459.59 614.66 L461.38 618.13 L463.20 621.60 L465.07 625.05 L466.93 628.50 L468.80 631.95 L470.67 635.40 L472.53 638.86 L474.30 642.33 L476.01 645.83 L477.72 649.32 L479.42 652.82 L481.13 656.32" fill="none" stroke="#1c1a19" stroke-width="1.3" stroke-linejoin="round" stroke-linecap="round" />
<path d="M462.60 597.99 L464.47 601.44 L466.33 604.89 L468.20 608.34 L470.07 611.79 L471.93 615.24 L473.75 618.71 L475.46 622.21 L477.17 625.70 L478.87 629.20 L480.58 632.69 L482.29 636.19 L484.00 639.68 L485.71 643.18 L487.42 646.67 L489.12 650.17 L490.83 653.66" fill="none" stroke="#1c1a19" stroke-width="1.3" stroke-linejoin="round" stroke-linecap="round" />
<path d="M473.20 595.09 L474.91 598.58 L476.62 602.08 L478.32 605.57 L480.03 609.07 L481.74 612.56 L483.45 616.06 L485.16 619.55 L486.87 623.05 L488.57 626.54 L490.28 630.04 L491.99 633.53 L493.70 637.03 L495.41 640.52 L497.12 644.02 L498.82 647.51 L500.53 651.01" fill="none" stroke="#1c1a19" stroke-width="1.3" stroke-linejoin="round" stroke-linecap="round" />
<path d="M482.90 592.43 L484.61 595.93 L486.32 599.42 L488.02 602.92 L489.73 606.41 L491.44 609.91 L493.15 613.40 L494.86 616.90 L496.57 620.39 L498.27 623.89 L499.98 627.38 L501.69 630.88 L503.40 634.37 L505.11 637.87 L506.82 641.36 L508.52 644.86 L510.23 648.35" fill="none" stroke="#1c1a19" stroke-width="1.3" stroke-linejoin="round" stroke-linecap="round" />
<path d="M419.60 603.92 L415.80 607.90 L411.99 611.89 L408.19 615.88 L404.38 619.87 L400.58 623.86 L396.78 627.85 L392.97 631.84 L389.17 635.83 L385.36 639.82 L381.56 643.81 L377.76 647.80 L373.95 651.79 L370.15 655.78 L366.34 659.77 L362.54 663.76 L358.74 667.75" fill="none" stroke="#1c1a19" stroke-width="1.3" stroke-linejoin="round" stroke-linecap="round" />
<path d="M438.30 603.71 L435.01 607.77 L431.71 611.75 L428.42 615.74 L425.13 619.73 L421.83 623.71 L418.38 627.70 L414.57 631.69 L410.77 635.68 L406.96 639.67 L403.16 643.66 L399.36 647.65 L395.55 651.64 L391.75 655.63 L387.94 659.62 L384.14 663.61 L380.34 667.60" fill="none" stroke="#1c1a19" stroke-width="1.3" stroke-linejoin="round" stroke-linecap="round" />
<path d="M452.40 600.78 L449.92 605.42 L447.43 610.06 L444.95 614.63 L442.47 619.19 L439.98 623.46 L437.24 627.52 L433.95 631.55 L430.65 635.54 L427.36 639.52 L424.07 643.51 L420.77 647.49 L417.15 651.48 L413.35 655.47 L409.54 659.46 L405.74 663.45 L401.94 667.44" fill="none" stroke="#1c1a19" stroke-width="1.3" stroke-linejoin="round" stroke-linecap="round" />
<path d="M462.60 597.99 L460.80 602.44 L459.01 606.89 L457.21 611.35 L455.41 615.80 L453.62 620.26 L451.60 624.77 L449.12 629.41 L446.63 634.04 L444.15 638.60 L441.67 643.16 L439.19 647.26 L436.18 651.33 L432.89 655.33 L429.59 659.32 L426.30 663.30 L423.01 667.29" fill="none" stroke="#1c1a19" stroke-width="1.3" stroke-linejoin="round" stroke-linecap="round" />
<path d="M473.20 595.09 L471.33 599.56 L469.47 604.03 L467.60 608.51 L465.73 612.98 L463.87 617.45 L462.02 621.92 L460.23 626.37 L458.43 630.83 L456.63 635.28 L454.84 639.74 L453.04 644.19 L450.80 648.76 L448.32 653.41 L445.84 658.00 L443.35 662.57 L440.87 667.02" fill="none" stroke="#1c1a19" stroke-width="1.3" stroke-linejoin="round" stroke-linecap="round" />
<path d="M482.90 592.43 L481.19 596.86 L479.48 601.29 L477.78 605.72 L476.07 610.15 L474.36 614.58 L472.60 619.02 L470.73 623.50 L468.87 627.97 L467.00 632.44 L465.13 636.92 L463.27 641.39 L461.44 645.85 L459.65 650.31 L457.85 654.76 L456.06 659.21 L454.26 663.67" fill="none" stroke="#1c1a19" stroke-width="1.3" stroke-linejoin="round" stroke-linecap="round" />
<path d="M492.60 589.78 L490.89 594.21 L489.18 598.64 L487.48 603.07 L485.77 607.50 L484.06 611.93 L482.35 616.36 L480.64 620.79 L478.93 625.22 L477.23 629.65 L475.52 634.08 L473.81 638.51 L472.00 642.96 L470.13 647.44 L468.27 651.91 L466.40 656.38 L464.53 660.86" fill="none" stroke="#1c1a19" stroke-width="1.3" stroke-linejoin="round" stroke-linecap="round" />
<path d="M502.30 587.12 L500.59 591.55 L498.88 595.98 L497.18 600.41 L495.47 604.84 L493.76 609.27 L492.05 613.70 L490.34 618.13 L488.63 622.56 L486.93 626.99 L485.22 631.42 L483.51 635.85 L481.80 640.28 L480.09 644.71 L478.38 649.14 L476.68 653.57 L474.97 658.00" fill="none" stroke="#1c1a19" stroke-width="1.3" stroke-linejoin="round" stroke-linecap="round" />
<path d="M512.00 584.47 L510.29 588.90 L508.58 593.33 L506.88 597.76 L505.17 602.19 L503.46 606.62 L501.75 611.05 L500.04 615.48 L498.33 619.91 L496.63 624.34 L494.92 628.77 L493.21 633.20 L491.50 637.63 L489.79 642.06 L488.08 646.49 L486.38 650.92 L484.67 655.35" fill="none" stroke="#1c1a19" stroke-width="1.3" stroke-linejoin="round" stroke-linecap="round" />
</g>
</svg>
</body></html>
